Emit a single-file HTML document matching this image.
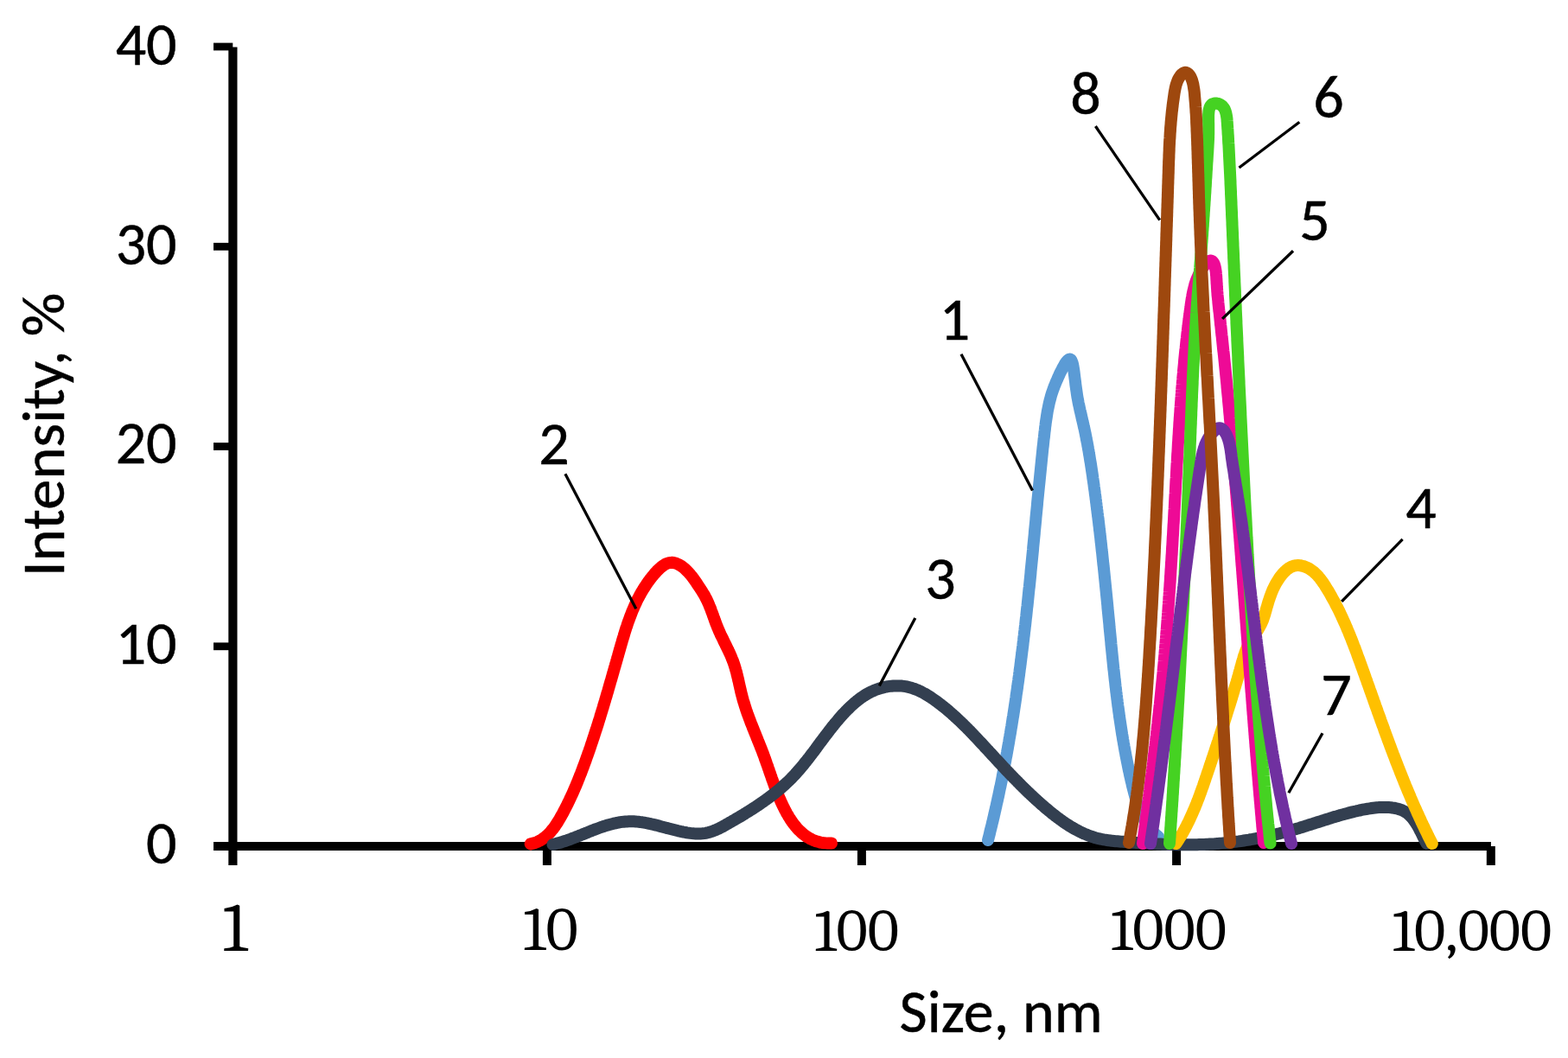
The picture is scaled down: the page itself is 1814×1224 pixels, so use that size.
<!DOCTYPE html><html><head><meta charset="utf-8"><title>Intensity vs Size</title>
<style>html,body{margin:0;padding:0;background:#fff;}svg{display:block;}.s{font-family:"Carlito","Liberation Sans",sans-serif;font-size-adjust:cap-height 0.6416;fill:#000;stroke:#000;stroke-width:0.5px;}.r{font-family:"Caladea","Liberation Serif",serif;font-size-adjust:cap-height 0.667;fill:#000;}</style></head><body>
<svg width="1814" height="1224" viewBox="0 0 1814 1224">
<rect width="1814" height="1224" fill="#fff"/>
<g fill="#000">
<rect x="264.3" y="54.5" width="10.2" height="946.5"/>
<rect x="247" y="974" width="1477.9" height="10"/>
<rect x="247" y="49.6" width="22.3" height="8.8"/>
<rect x="247" y="280.9" width="22.3" height="8.8"/>
<rect x="247" y="512.1" width="22.3" height="8.8"/>
<rect x="247" y="743.4" width="22.3" height="8.8"/>
<rect x="627.9" y="979" width="10" height="22"/>
<rect x="991.9" y="979" width="10" height="22"/>
<rect x="1356.1" y="979" width="10" height="22"/>
<rect x="1719.8" y="979" width="10" height="22"/>
</g>
<path d="M1143.0,972.0 L1143.5,970.1 L1144.0,968.1 L1144.5,966.2 L1145.0,964.2 L1145.4,962.3 L1145.9,960.3 L1146.4,958.4 L1146.9,956.4 L1147.4,954.5 L1147.8,952.5 L1148.3,950.6 L1148.8,948.6 L1149.2,946.7 L1149.7,944.7 L1150.1,942.8 L1150.6,940.8 L1151.0,938.8 L1151.5,936.9 L1151.9,934.9 L1152.4,933.0 L1152.8,931.0 L1153.2,929.1 L1153.7,927.1 L1154.1,925.2 L1154.5,923.2 L1155.0,921.2 L1155.4,919.3 L1155.8,917.3 L1156.2,915.4 L1156.6,913.4 L1157.0,911.4 L1157.5,909.5 L1157.9,907.5 L1158.3,905.5 L1158.7,903.6 L1159.1,901.6 L1159.5,899.6 L1159.8,897.7 L1160.2,895.7 L1160.6,893.7 L1161.0,891.8 L1161.4,889.8 L1161.8,887.8 L1162.1,885.9 L1162.5,883.9 L1162.9,881.9 L1163.3,880.0 L1163.6,878.0 L1164.0,876.0 L1164.4,874.1 L1164.7,872.1 L1165.1,870.1 L1165.4,868.1 L1165.8,866.2 L1166.1,864.2 L1166.5,862.2 L1166.8,860.3 L1167.2,858.3 L1167.5,856.3 L1167.8,854.3 L1168.2,852.4 L1168.5,850.4 L1168.9,848.4 L1169.2,846.4 L1169.5,844.4 L1169.8,842.5 L1170.2,840.5 L1170.5,838.5 L1170.8,836.5 L1171.1,834.6 L1171.4,832.6 L1171.7,830.6 L1172.1,828.6 L1172.4,826.6 L1172.7,824.7 L1173.0,822.7 L1173.3,820.7 L1173.6,818.7 L1173.9,816.7 L1174.2,814.7 L1174.5,812.8 L1174.8,810.8 L1175.1,808.8 L1175.4,806.8 L1175.6,804.8 L1175.9,802.8 L1176.2,800.9 L1176.5,798.9 L1176.8,796.9 L1177.1,794.9 L1177.3,792.9 L1177.6,790.9 L1177.9,788.9 L1178.2,787.0 L1178.4,785.0 L1178.7,783.0 L1179.0,781.0 L1179.2,779.0 L1179.5,777.0 L1179.7,775.0 L1180.0,773.0 L1180.3,771.1 L1180.5,769.1 L1180.8,767.1 L1181.0,765.1 L1181.3,763.1 L1181.5,761.1 L1181.8,759.1 L1182.0,757.1 L1182.3,755.1 L1182.5,753.1 L1182.8,751.1 L1183.0,749.2 L1183.3,747.2 L1183.5,745.2 L1183.7,743.2 L1184.0,741.2 L1184.2,739.2 L1184.4,737.2 L1184.7,735.2 L1184.9,733.2 L1185.1,731.2 L1185.4,729.2 L1185.6,727.2 L1185.8,725.2 L1186.1,723.2 L1186.3,721.2 L1186.5,719.3 L1186.7,717.3 L1186.9,715.3 L1187.2,713.3 L1187.4,711.3 L1187.6,709.3 L1187.8,707.3 L1188.0,705.3 L1188.2,703.3 L1188.5,701.3 L1188.7,699.3 L1188.9,697.3 L1189.1,695.3 L1189.3,693.3 L1189.5,691.3 L1189.7,689.3 L1189.9,687.3 L1190.1,685.3 L1190.3,683.3 L1190.5,681.3 L1190.8,679.3 L1191.0,677.3 L1191.2,675.3 L1191.4,673.3 L1191.6,671.3 L1191.8,669.3 L1192.0,667.3 L1192.2,665.3 L1192.4,663.3 L1192.5,661.3 L1192.7,659.3 L1192.9,657.3 L1193.1,655.4 L1193.3,653.4 L1193.5,651.4 L1193.7,649.4 L1193.9,647.4 L1194.1,645.4 L1194.3,643.4 L1194.5,641.4 L1194.7,639.4 L1194.9,637.4 L1195.1,635.4 L1195.2,633.4 L1195.4,631.4 L1195.6,629.4 L1195.8,627.4 L1196.0,625.4 L1196.2,623.4 L1196.4,621.4 L1196.6,619.4 L1196.8,617.4 L1196.9,615.4 L1197.1,613.4 L1197.3,611.4 L1197.5,609.4 L1197.7,607.4 L1197.9,605.4 L1198.1,603.4 L1198.3,601.4 L1198.4,599.4 L1198.6,597.4 L1198.8,595.4 L1199.0,593.4 L1199.2,591.4 L1199.4,589.4 L1199.6,587.4 L1199.8,585.4 L1200.0,583.4 L1200.1,581.4 L1200.3,579.4 L1200.5,577.4 L1200.7,575.4 L1200.9,573.4 L1201.1,571.4 L1201.3,569.4 L1201.5,567.4 L1201.7,565.4 L1201.9,563.4 L1202.1,561.5 L1202.3,559.5 L1202.5,557.5 L1202.7,555.5 L1202.9,553.5 L1203.1,551.5 L1203.3,549.5 L1203.5,547.5 L1203.7,545.5 L1203.9,543.5 L1204.1,541.5 L1204.3,539.5 L1204.5,537.5 L1204.7,535.5 L1204.9,533.5 L1205.1,531.5 L1205.3,529.6 L1205.5,527.6 L1205.7,525.6 L1205.9,523.6 L1206.1,521.6 L1206.3,519.6 L1206.5,517.6 L1206.8,515.6 L1207.0,513.6 L1207.2,511.6 L1207.4,509.6 L1207.6,507.7 L1207.9,505.7 L1208.1,503.7 L1208.3,501.7 L1208.5,499.7 L1208.8,497.7 L1209.0,495.7 L1209.2,493.8 L1209.5,491.8 L1209.7,489.8 L1210.0,487.8 L1210.3,485.8 L1210.6,483.9 L1210.9,481.9 L1211.2,479.9 L1211.5,478.0 L1211.8,476.0 L1212.2,474.0 L1212.6,472.1 L1213.0,470.1 L1213.4,468.2 L1213.8,466.3 L1214.3,464.3 L1214.8,462.4 L1215.3,460.5 L1215.8,458.6 L1216.4,456.6 L1217.0,454.7 L1217.6,452.8 L1218.3,450.9 L1219.0,449.0 L1219.7,447.0 L1220.5,445.1 L1221.3,443.1 L1222.2,441.0 L1223.1,439.0 L1224.0,436.8 L1225.0,434.7 L1226.0,432.4 L1227.1,430.2 L1228.3,427.9 L1229.4,425.7 L1230.6,423.5 L1231.7,421.5 L1232.9,419.7 L1234.0,418.2 L1235.1,417.0 L1236.1,416.1 L1237.0,415.6 L1237.9,415.5 L1238.7,415.9 L1239.4,416.8 L1240.0,418.1 L1240.6,419.7 L1241.1,421.5 L1241.5,423.6 L1241.9,425.9 L1242.3,428.3 L1242.6,430.7 L1242.9,433.1 L1243.2,435.5 L1243.5,437.8 L1243.8,440.1 L1244.1,442.3 L1244.3,444.5 L1244.6,446.7 L1244.9,448.9 L1245.2,451.0 L1245.5,453.1 L1245.8,455.2 L1246.1,457.2 L1246.4,459.2 L1246.8,461.3 L1247.2,463.3 L1247.5,465.2 L1247.9,467.2 L1248.4,469.2 L1248.8,471.1 L1249.2,473.1 L1249.6,475.0 L1250.1,476.9 L1250.5,478.8 L1251.0,480.8 L1251.4,482.7 L1251.8,484.6 L1252.3,486.5 L1252.7,488.4 L1253.2,490.3 L1253.6,492.2 L1254.0,494.1 L1254.5,496.0 L1254.9,498.0 L1255.3,499.9 L1255.7,501.8 L1256.1,503.8 L1256.5,505.7 L1256.8,507.7 L1257.2,509.6 L1257.6,511.5 L1258.0,513.5 L1258.3,515.5 L1258.7,517.4 L1259.0,519.4 L1259.4,521.3 L1259.7,523.3 L1260.0,525.3 L1260.4,527.2 L1260.7,529.2 L1261.0,531.2 L1261.3,533.2 L1261.7,535.2 L1262.0,537.1 L1262.3,539.1 L1262.6,541.1 L1262.9,543.1 L1263.2,545.1 L1263.5,547.1 L1263.8,549.1 L1264.1,551.0 L1264.3,553.0 L1264.6,555.0 L1264.9,557.0 L1265.2,559.0 L1265.5,561.0 L1265.7,563.0 L1266.0,565.0 L1266.3,567.0 L1266.6,569.0 L1266.8,571.0 L1267.1,573.0 L1267.4,575.0 L1267.6,577.0 L1267.9,579.0 L1268.1,581.0 L1268.4,583.0 L1268.6,585.0 L1268.9,587.0 L1269.1,589.0 L1269.4,591.0 L1269.6,593.0 L1269.9,595.0 L1270.1,597.0 L1270.4,599.0 L1270.6,600.9 L1270.9,602.9 L1271.1,604.9 L1271.3,606.9 L1271.6,608.9 L1271.8,610.9 L1272.0,612.9 L1272.3,614.9 L1272.5,616.9 L1272.7,618.9 L1273.0,620.9 L1273.2,622.9 L1273.4,624.9 L1273.6,626.9 L1273.9,628.9 L1274.1,630.9 L1274.3,632.9 L1274.5,634.9 L1274.7,636.9 L1275.0,638.9 L1275.2,640.9 L1275.4,642.9 L1275.6,644.9 L1275.8,646.9 L1276.0,648.9 L1276.2,650.9 L1276.4,652.9 L1276.7,654.9 L1276.9,656.9 L1277.1,658.9 L1277.3,660.9 L1277.5,662.9 L1277.7,664.9 L1277.9,666.9 L1278.1,668.9 L1278.3,670.9 L1278.5,672.9 L1278.7,674.9 L1278.9,676.9 L1279.1,678.9 L1279.3,680.9 L1279.5,682.9 L1279.7,684.9 L1279.9,686.9 L1280.1,688.9 L1280.3,690.9 L1280.5,692.9 L1280.7,694.9 L1280.9,696.9 L1281.1,698.9 L1281.3,700.9 L1281.4,702.8 L1281.6,704.8 L1281.8,706.8 L1282.0,708.8 L1282.2,710.8 L1282.4,712.8 L1282.6,714.8 L1282.8,716.8 L1283.0,718.8 L1283.2,720.8 L1283.4,722.8 L1283.5,724.8 L1283.7,726.8 L1283.9,728.8 L1284.1,730.7 L1284.3,732.7 L1284.5,734.7 L1284.7,736.7 L1284.9,738.7 L1285.1,740.7 L1285.3,742.7 L1285.4,744.7 L1285.6,746.7 L1285.8,748.7 L1286.0,750.6 L1286.2,752.6 L1286.4,754.6 L1286.6,756.6 L1286.8,758.6 L1287.0,760.6 L1287.2,762.6 L1287.4,764.6 L1287.6,766.5 L1287.8,768.5 L1288.0,770.5 L1288.2,772.5 L1288.4,774.5 L1288.7,776.5 L1288.9,778.5 L1289.1,780.4 L1289.3,782.4 L1289.5,784.4 L1289.7,786.4 L1290.0,788.4 L1290.2,790.4 L1290.4,792.4 L1290.6,794.3 L1290.9,796.3 L1291.1,798.3 L1291.3,800.3 L1291.6,802.3 L1291.8,804.3 L1292.1,806.2 L1292.3,808.2 L1292.6,810.2 L1292.8,812.2 L1293.1,814.2 L1293.3,816.2 L1293.6,818.2 L1293.9,820.1 L1294.1,822.1 L1294.4,824.1 L1294.7,826.1 L1294.9,828.1 L1295.2,830.1 L1295.5,832.0 L1295.8,834.0 L1296.1,836.0 L1296.4,838.0 L1296.7,840.0 L1297.0,842.0 L1297.3,843.9 L1297.6,845.9 L1297.9,847.9 L1298.2,849.9 L1298.6,851.9 L1298.9,853.9 L1299.2,855.8 L1299.6,857.8 L1299.9,859.8 L1300.3,861.8 L1300.6,863.8 L1301.0,865.8 L1301.3,867.8 L1301.7,869.7 L1302.1,871.7 L1302.4,873.7 L1302.8,875.7 L1303.2,877.7 L1303.6,879.7 L1304.0,881.7 L1304.4,883.6 L1304.8,885.6 L1305.2,887.6 L1305.6,889.6 L1306.0,891.6 L1306.5,893.6 L1306.9,895.6 L1307.3,897.5 L1307.8,899.5 L1308.2,901.5 L1308.7,903.5 L1309.2,905.5 L1309.6,907.5 L1310.1,909.5 L1310.6,911.5 L1311.1,913.4 L1311.6,915.4 L1312.1,917.4 L1312.7,919.3 L1313.2,921.3 L1313.8,923.3 L1314.4,925.2 L1315.0,927.1 L1315.6,929.0 L1316.2,930.9 L1316.9,932.8 L1317.6,934.7 L1318.3,936.5 L1319.1,938.4 L1319.8,940.2 L1320.6,942.0 L1321.5,943.7 L1322.3,945.5 L1323.2,947.2 L1324.1,948.9 L1325.1,950.6 L1326.1,952.2 L1327.2,953.8 L1328.2,955.4 L1329.4,956.9 L1330.5,958.4 L1331.7,959.9 L1333.0,961.4 L1334.3,962.8 L1335.6,964.2 L1337.0,965.5 L1338.5,966.8 L1340.0,968.0" fill="none" stroke="#5B9BD5" stroke-width="14" stroke-linecap="round" stroke-linejoin="round"/>
<path d="M613.7,976.4 L615.8,975.9 L617.8,975.4 L619.7,974.7 L621.6,974.0 L623.4,973.1 L625.1,972.2 L626.8,971.2 L628.4,970.1 L630.0,968.9 L631.5,967.7 L633.0,966.4 L634.4,965.1 L635.7,963.7 L637.1,962.2 L638.3,960.7 L639.6,959.2 L640.8,957.6 L642.0,956.0 L643.1,954.3 L644.2,952.6 L645.3,950.9 L646.3,949.2 L647.4,947.4 L648.4,945.6 L649.4,943.9 L650.4,942.1 L651.4,940.3 L652.3,938.5 L653.3,936.7 L654.2,934.9 L655.1,933.1 L656.0,931.3 L656.9,929.5 L657.8,927.7 L658.7,925.9 L659.5,924.0 L660.4,922.2 L661.2,920.4 L662.1,918.6 L662.9,916.7 L663.7,914.9 L664.5,913.0 L665.3,911.2 L666.1,909.4 L666.9,907.5 L667.6,905.7 L668.4,903.8 L669.1,901.9 L669.9,900.1 L670.6,898.2 L671.3,896.4 L672.1,894.5 L672.8,892.6 L673.5,890.8 L674.2,888.9 L674.9,887.0 L675.6,885.1 L676.3,883.3 L677.0,881.4 L677.7,879.5 L678.3,877.6 L679.0,875.7 L679.7,873.8 L680.3,872.0 L681.0,870.1 L681.7,868.2 L682.3,866.3 L683.0,864.4 L683.6,862.5 L684.2,860.6 L684.9,858.7 L685.5,856.8 L686.1,854.9 L686.8,853.0 L687.4,851.1 L688.0,849.2 L688.6,847.3 L689.2,845.4 L689.9,843.5 L690.5,841.6 L691.1,839.7 L691.7,837.8 L692.3,835.8 L692.9,833.9 L693.5,832.0 L694.1,830.1 L694.6,828.2 L695.2,826.3 L695.8,824.4 L696.4,822.4 L697.0,820.5 L697.6,818.6 L698.1,816.7 L698.7,814.8 L699.3,812.8 L699.9,810.9 L700.4,809.0 L701.0,807.1 L701.6,805.2 L702.1,803.2 L702.7,801.3 L703.3,799.4 L703.8,797.5 L704.4,795.5 L704.9,793.6 L705.5,791.7 L706.0,789.8 L706.6,787.8 L707.2,785.9 L707.7,784.0 L708.3,782.0 L708.8,780.1 L709.4,778.2 L709.9,776.3 L710.5,774.3 L711.0,772.4 L711.6,770.5 L712.1,768.5 L712.7,766.6 L713.2,764.7 L713.8,762.8 L714.3,760.8 L714.9,758.9 L715.4,757.0 L716.0,755.0 L716.5,753.1 L717.1,751.2 L717.6,749.3 L718.2,747.3 L718.7,745.4 L719.3,743.5 L719.8,741.5 L720.4,739.6 L721.0,737.7 L721.6,735.8 L722.1,733.9 L722.7,732.0 L723.3,730.0 L723.9,728.1 L724.5,726.2 L725.2,724.3 L725.8,722.4 L726.4,720.6 L727.1,718.7 L727.8,716.8 L728.5,714.9 L729.2,713.0 L729.9,711.2 L730.6,709.3 L731.3,707.5 L732.1,705.6 L732.9,703.8 L733.7,701.9 L734.5,700.1 L735.3,698.3 L736.2,696.5 L737.0,694.7 L737.9,692.9 L738.9,691.1 L739.8,689.3 L740.8,687.6 L741.7,685.8 L742.8,684.1 L743.8,682.3 L744.9,680.6 L746.0,678.9 L747.1,677.2 L748.2,675.5 L749.4,673.8 L750.6,672.1 L751.8,670.5 L753.1,668.8 L754.4,667.2 L755.7,665.6 L757.1,663.9 L758.5,662.4 L759.9,660.8 L761.4,659.3 L762.9,657.9 L764.4,656.5 L765.9,655.3 L767.5,654.1 L769.1,653.1 L770.7,652.3 L772.4,651.6 L774.0,651.1 L775.7,650.9 L777.4,650.8 L779.1,651.0 L780.8,651.3 L782.5,651.9 L784.2,652.6 L785.9,653.5 L787.6,654.5 L789.3,655.6 L790.9,656.9 L792.5,658.2 L794.0,659.7 L795.5,661.2 L797.0,662.8 L798.4,664.4 L799.8,666.1 L801.1,667.8 L802.5,669.6 L803.7,671.4 L805.0,673.2 L806.2,675.0 L807.4,676.8 L808.6,678.6 L809.7,680.3 L810.9,682.1 L812.0,683.8 L813.0,685.5 L814.1,687.2 L815.1,688.9 L816.0,690.7 L816.9,692.4 L817.8,694.1 L818.6,695.9 L819.4,697.7 L820.2,699.5 L820.9,701.3 L821.7,703.1 L822.4,704.9 L823.0,706.7 L823.7,708.5 L824.4,710.4 L825.0,712.2 L825.7,714.1 L826.4,715.9 L827.0,717.8 L827.7,719.6 L828.4,721.5 L829.1,723.3 L829.8,725.2 L830.6,727.0 L831.4,728.8 L832.2,730.7 L833.0,732.5 L833.8,734.3 L834.7,736.1 L835.6,737.9 L836.5,739.7 L837.3,741.6 L838.2,743.4 L839.1,745.2 L840.0,747.0 L840.9,748.8 L841.8,750.7 L842.7,752.5 L843.5,754.3 L844.4,756.2 L845.2,758.0 L846.0,759.8 L846.7,761.7 L847.5,763.6 L848.2,765.4 L848.9,767.3 L849.5,769.2 L850.1,771.1 L850.7,773.0 L851.2,775.0 L851.8,776.9 L852.3,778.8 L852.7,780.8 L853.2,782.7 L853.7,784.6 L854.1,786.6 L854.6,788.5 L855.0,790.5 L855.4,792.4 L855.9,794.4 L856.3,796.3 L856.8,798.3 L857.2,800.2 L857.7,802.2 L858.2,804.1 L858.7,806.1 L859.2,808.0 L859.7,809.9 L860.3,811.8 L860.9,813.7 L861.5,815.7 L862.1,817.6 L862.7,819.5 L863.3,821.4 L864.0,823.3 L864.6,825.2 L865.3,827.0 L866.0,828.9 L866.7,830.8 L867.4,832.7 L868.1,834.6 L868.8,836.5 L869.6,838.3 L870.3,840.2 L871.0,842.1 L871.8,843.9 L872.5,845.8 L873.3,847.7 L874.0,849.5 L874.8,851.4 L875.5,853.3 L876.3,855.1 L877.0,857.0 L877.8,858.9 L878.5,860.7 L879.3,862.6 L880.0,864.5 L880.7,866.3 L881.5,868.2 L882.2,870.1 L882.9,871.9 L883.6,873.8 L884.3,875.7 L884.9,877.6 L885.6,879.4 L886.3,881.3 L886.9,883.2 L887.6,885.1 L888.3,886.9 L888.9,888.8 L889.6,890.7 L890.2,892.6 L890.9,894.5 L891.5,896.3 L892.2,898.2 L892.8,900.1 L893.5,902.0 L894.2,903.9 L894.8,905.7 L895.5,907.6 L896.2,909.5 L896.9,911.4 L897.6,913.2 L898.4,915.1 L899.1,917.0 L899.8,918.8 L900.6,920.7 L901.4,922.6 L902.2,924.4 L903.0,926.3 L903.8,928.2 L904.7,930.0 L905.6,931.9 L906.4,933.7 L907.4,935.5 L908.3,937.4 L909.3,939.2 L910.2,941.0 L911.3,942.7 L912.3,944.5 L913.4,946.2 L914.4,947.9 L915.6,949.6 L916.7,951.2 L917.9,952.9 L919.1,954.4 L920.4,956.0 L921.6,957.5 L922.9,958.9 L924.3,960.4 L925.7,961.7 L927.1,963.0 L928.5,964.3 L930.0,965.5 L931.6,966.7 L933.1,967.8 L934.7,968.8 L936.4,969.8 L938.1,970.7 L939.8,971.5 L941.6,972.3 L943.4,973.0 L945.3,973.6 L947.2,974.1 L949.2,974.6 L951.2,975.0 L953.3,975.2 L955.4,975.4 L957.5,975.6 L959.7,975.6 L962.0,975.5" fill="none" stroke="#FF0000" stroke-width="14" stroke-linecap="round" stroke-linejoin="round"/>
<path d="M639.5,977.0 L641.4,976.6 L643.3,976.1 L645.1,975.6 L647.0,975.1 L648.9,974.5 L650.8,973.9 L652.7,973.3 L654.6,972.7 L656.5,972.0 L658.4,971.4 L660.3,970.7 L662.1,969.9 L664.0,969.2 L665.9,968.5 L667.8,967.7 L669.7,967.0 L671.6,966.2 L673.5,965.5 L675.4,964.7 L677.4,963.9 L679.3,963.2 L681.2,962.4 L683.1,961.6 L685.0,960.9 L686.9,960.1 L688.8,959.4 L690.7,958.7 L692.7,958.0 L694.6,957.3 L696.5,956.6 L698.4,956.0 L700.3,955.4 L702.3,954.8 L704.2,954.2 L706.1,953.7 L708.1,953.2 L710.0,952.7 L711.9,952.3 L713.9,951.9 L715.8,951.5 L717.7,951.2 L719.7,950.9 L721.6,950.7 L723.6,950.5 L725.5,950.4 L727.5,950.3 L729.4,950.2 L731.4,950.3 L733.3,950.3 L735.3,950.4 L737.2,950.6 L739.2,950.8 L741.1,951.1 L743.1,951.3 L745.1,951.6 L747.0,952.0 L749.0,952.4 L751.0,952.8 L752.9,953.2 L754.9,953.7 L756.9,954.1 L758.9,954.6 L760.8,955.1 L762.8,955.6 L764.8,956.2 L766.8,956.7 L768.8,957.2 L770.8,957.7 L772.7,958.3 L774.7,958.8 L776.7,959.3 L778.7,959.8 L780.7,960.3 L782.7,960.8 L784.7,961.3 L786.7,961.7 L788.7,962.2 L790.7,962.6 L792.7,962.9 L794.7,963.3 L796.7,963.6 L798.7,963.9 L800.7,964.1 L802.7,964.3 L804.7,964.4 L806.6,964.5 L808.6,964.5 L810.5,964.4 L812.5,964.3 L814.4,964.1 L816.3,963.8 L818.2,963.4 L820.0,963.0 L821.9,962.4 L823.7,961.8 L825.5,961.2 L827.3,960.4 L829.1,959.7 L830.9,958.9 L832.7,958.0 L834.5,957.1 L836.2,956.2 L838.0,955.2 L839.7,954.2 L841.5,953.2 L843.2,952.2 L845.0,951.2 L846.7,950.2 L848.5,949.2 L850.2,948.2 L852.0,947.2 L853.7,946.1 L855.5,945.1 L857.2,944.1 L859.0,943.0 L860.7,942.0 L862.4,940.9 L864.2,939.8 L865.9,938.8 L867.6,937.7 L869.3,936.6 L871.0,935.5 L872.7,934.4 L874.4,933.3 L876.1,932.2 L877.8,931.0 L879.5,929.9 L881.1,928.7 L882.8,927.6 L884.4,926.4 L886.1,925.2 L887.7,924.1 L889.3,922.9 L891.0,921.6 L892.6,920.4 L894.2,919.2 L895.7,918.0 L897.3,916.7 L898.9,915.4 L900.4,914.2 L902.0,912.9 L903.5,911.6 L905.0,910.3 L906.5,908.9 L908.0,907.6 L909.5,906.2 L910.9,904.9 L912.4,903.5 L913.8,902.1 L915.2,900.7 L916.6,899.3 L918.0,897.8 L919.3,896.4 L920.7,894.9 L922.0,893.4 L923.3,891.9 L924.7,890.4 L926.0,888.9 L927.2,887.4 L928.5,885.8 L929.8,884.3 L931.0,882.7 L932.3,881.2 L933.5,879.6 L934.8,878.0 L936.0,876.5 L937.2,874.9 L938.4,873.3 L939.6,871.7 L940.9,870.1 L942.1,868.5 L943.3,866.9 L944.5,865.3 L945.6,863.6 L946.8,862.0 L948.0,860.4 L949.2,858.8 L950.4,857.2 L951.6,855.6 L952.8,854.0 L954.0,852.4 L955.2,850.8 L956.5,849.2 L957.7,847.6 L958.9,846.0 L960.1,844.4 L961.4,842.8 L962.6,841.2 L963.9,839.7 L965.1,838.1 L966.4,836.5 L967.7,835.0 L969.0,833.5 L970.3,831.9 L971.6,830.4 L972.9,828.9 L974.2,827.4 L975.6,825.9 L977.0,824.5 L978.3,823.0 L979.7,821.6 L981.2,820.2 L982.6,818.8 L984.0,817.4 L985.5,816.0 L987.0,814.7 L988.5,813.3 L990.0,812.1 L991.6,810.8 L993.1,809.6 L994.7,808.4 L996.3,807.2 L998.0,806.1 L999.6,805.0 L1001.3,803.9 L1003.0,802.9 L1004.8,801.9 L1006.5,801.0 L1008.3,800.1 L1010.1,799.3 L1011.9,798.5 L1013.8,797.8 L1015.7,797.1 L1017.6,796.5 L1019.6,795.9 L1021.5,795.4 L1023.5,794.9 L1025.5,794.5 L1027.5,794.2 L1029.5,793.9 L1031.5,793.7 L1033.5,793.5 L1035.5,793.4 L1037.5,793.4 L1039.6,793.4 L1041.6,793.5 L1043.5,793.6 L1045.5,793.9 L1047.5,794.2 L1049.4,794.5 L1051.3,795.0 L1053.3,795.5 L1055.1,796.0 L1057.0,796.7 L1058.9,797.3 L1060.7,798.1 L1062.5,798.8 L1064.3,799.7 L1066.1,800.5 L1067.9,801.5 L1069.6,802.4 L1071.3,803.4 L1073.1,804.5 L1074.8,805.5 L1076.5,806.6 L1078.1,807.7 L1079.8,808.9 L1081.4,810.0 L1083.1,811.2 L1084.7,812.4 L1086.3,813.6 L1087.9,814.8 L1089.5,816.1 L1091.1,817.3 L1092.7,818.6 L1094.2,819.8 L1095.8,821.1 L1097.3,822.4 L1098.8,823.7 L1100.3,825.0 L1101.8,826.4 L1103.3,827.7 L1104.8,829.1 L1106.3,830.4 L1107.8,831.8 L1109.2,833.1 L1110.7,834.5 L1112.1,835.9 L1113.6,837.3 L1115.0,838.7 L1116.4,840.1 L1117.9,841.5 L1119.3,843.0 L1120.7,844.4 L1122.1,845.8 L1123.5,847.2 L1124.9,848.7 L1126.3,850.1 L1127.6,851.6 L1129.0,853.0 L1130.4,854.5 L1131.8,856.0 L1133.1,857.4 L1134.5,858.9 L1135.9,860.4 L1137.2,861.8 L1138.6,863.3 L1139.9,864.8 L1141.3,866.2 L1142.7,867.7 L1144.0,869.2 L1145.4,870.6 L1146.7,872.1 L1148.1,873.6 L1149.4,875.0 L1150.8,876.5 L1152.1,878.0 L1153.5,879.4 L1154.8,880.9 L1156.2,882.4 L1157.5,883.8 L1158.9,885.3 L1160.2,886.7 L1161.6,888.2 L1163.0,889.6 L1164.3,891.1 L1165.7,892.5 L1167.1,893.9 L1168.4,895.4 L1169.8,896.8 L1171.2,898.2 L1172.6,899.7 L1174.0,901.1 L1175.4,902.5 L1176.8,903.9 L1178.2,905.4 L1179.6,906.8 L1181.0,908.2 L1182.4,909.6 L1183.8,911.0 L1185.2,912.4 L1186.7,913.8 L1188.1,915.2 L1189.5,916.6 L1191.0,917.9 L1192.4,919.3 L1193.9,920.7 L1195.4,922.1 L1196.8,923.4 L1198.3,924.8 L1199.8,926.1 L1201.3,927.5 L1202.8,928.8 L1204.3,930.2 L1205.9,931.5 L1207.4,932.8 L1208.9,934.2 L1210.5,935.5 L1212.1,936.8 L1213.6,938.1 L1215.2,939.4 L1216.8,940.7 L1218.4,942.0 L1220.0,943.2 L1221.6,944.5 L1223.2,945.7 L1224.9,946.9 L1226.5,948.1 L1228.2,949.3 L1229.8,950.5 L1231.5,951.7 L1233.2,952.8 L1234.9,953.9 L1236.6,955.0 L1238.3,956.1 L1240.1,957.1 L1241.8,958.1 L1243.5,959.1 L1245.3,960.1 L1247.1,961.0 L1248.8,961.9 L1250.6,962.8 L1252.4,963.7 L1254.2,964.5 L1256.1,965.2 L1257.9,966.0 L1259.7,966.7 L1261.6,967.4 L1263.5,968.0 L1265.3,968.6 L1267.2,969.2 L1269.1,969.7 L1271.1,970.2 L1273.0,970.6 L1274.9,971.0 L1276.9,971.4 L1278.8,971.7 L1280.8,972.0 L1282.7,972.3 L1284.7,972.5 L1286.7,972.8 L1288.7,973.0 L1290.7,973.2 L1292.7,973.3 L1294.7,973.5 L1296.7,973.7 L1298.7,973.8 L1300.7,974.0 L1302.7,974.1 L1304.7,974.2 L1306.7,974.4 L1308.7,974.5 L1310.7,974.7 L1312.8,974.8 L1314.8,975.0 L1316.8,975.1 L1318.8,975.2 L1320.8,975.4 L1322.8,975.5 L1324.8,975.6 L1326.8,975.7 L1328.8,975.9 L1330.8,976.0 L1332.9,976.1 L1334.9,976.2 L1336.9,976.3 L1338.9,976.4 L1340.9,976.5 L1342.9,976.6 L1344.9,976.7 L1346.9,976.8 L1349.0,976.8 L1351.0,976.9 L1353.0,977.0 L1355.0,977.0 L1357.0,977.1 L1359.0,977.1 L1361.0,977.2 L1363.0,977.2 L1365.0,977.3 L1367.1,977.3 L1369.1,977.3 L1371.1,977.3 L1373.1,977.3 L1375.1,977.3 L1377.1,977.3 L1379.1,977.3 L1381.1,977.3 L1383.1,977.2 L1385.1,977.2 L1387.1,977.1 L1389.1,977.1 L1391.2,977.0 L1393.2,976.9 L1395.2,976.8 L1397.2,976.7 L1399.2,976.6 L1401.2,976.5 L1403.2,976.4 L1405.2,976.3 L1407.2,976.1 L1409.2,976.0 L1411.2,975.8 L1413.2,975.6 L1415.2,975.4 L1417.2,975.2 L1419.2,975.0 L1421.2,974.8 L1423.1,974.6 L1425.1,974.4 L1427.1,974.1 L1429.1,973.9 L1431.1,973.6 L1433.1,973.4 L1435.1,973.1 L1437.1,972.8 L1439.0,972.5 L1441.0,972.2 L1443.0,971.9 L1445.0,971.6 L1446.9,971.2 L1448.9,970.9 L1450.9,970.5 L1452.8,970.2 L1454.8,969.8 L1456.8,969.4 L1458.7,969.1 L1460.7,968.7 L1462.7,968.3 L1464.6,967.8 L1466.6,967.4 L1468.5,967.0 L1470.5,966.6 L1472.4,966.1 L1474.4,965.7 L1476.3,965.2 L1478.2,964.7 L1480.2,964.3 L1482.1,963.8 L1484.0,963.3 L1486.0,962.8 L1487.9,962.3 L1489.8,961.7 L1491.7,961.2 L1493.7,960.7 L1495.6,960.1 L1497.5,959.6 L1499.4,959.0 L1501.3,958.4 L1503.2,957.9 L1505.1,957.3 L1507.0,956.7 L1508.9,956.1 L1510.8,955.5 L1512.7,954.9 L1514.6,954.3 L1516.5,953.7 L1518.4,953.1 L1520.3,952.5 L1522.2,951.9 L1524.1,951.3 L1526.0,950.7 L1527.9,950.1 L1529.8,949.5 L1531.7,948.9 L1533.6,948.3 L1535.5,947.7 L1537.4,947.1 L1539.3,946.5 L1541.2,945.9 L1543.1,945.3 L1545.0,944.7 L1547.0,944.2 L1548.9,943.6 L1550.8,943.0 L1552.8,942.5 L1554.7,942.0 L1556.7,941.4 L1558.6,940.9 L1560.6,940.4 L1562.6,939.9 L1564.6,939.4 L1566.5,938.9 L1568.5,938.5 L1570.5,938.0 L1572.5,937.6 L1574.5,937.1 L1576.6,936.7 L1578.6,936.3 L1580.6,936.0 L1582.7,935.6 L1584.7,935.3 L1586.7,935.0 L1588.8,934.7 L1590.8,934.5 L1592.8,934.3 L1594.9,934.1 L1596.9,934.0 L1598.9,933.9 L1600.9,933.9 L1602.9,933.9 L1604.8,934.0 L1606.8,934.1 L1608.7,934.2 L1610.7,934.5 L1612.6,934.7 L1614.4,935.1 L1616.3,935.5 L1618.1,936.0 L1619.9,936.6 L1621.6,937.2 L1623.3,938.0 L1624.9,938.8 L1626.5,939.8 L1628.0,940.8 L1629.4,942.0 L1630.8,943.2 L1632.2,944.6 L1633.4,946.0 L1634.7,947.5 L1635.8,949.1 L1637.0,950.7 L1638.1,952.4 L1639.2,954.1 L1640.2,955.9 L1641.2,957.7 L1642.2,959.5 L1643.1,961.4 L1644.1,963.2 L1645.0,965.1 L1645.9,967.0 L1646.8,968.8 L1647.7,970.7 L1648.7,972.5 L1649.6,974.3 L1650.5,976.0" fill="none" stroke="#333F50" stroke-width="14" stroke-linecap="round" stroke-linejoin="round"/>
<path d="M1360.5,976.0 L1361.6,974.4 L1362.7,972.7 L1363.8,971.0 L1364.8,969.3 L1365.9,967.6 L1366.9,965.9 L1367.9,964.2 L1368.9,962.5 L1369.8,960.7 L1370.8,959.0 L1371.7,957.2 L1372.6,955.5 L1373.5,953.7 L1374.4,951.9 L1375.3,950.1 L1376.1,948.3 L1377.0,946.5 L1377.8,944.7 L1378.6,942.9 L1379.4,941.1 L1380.2,939.2 L1381.0,937.4 L1381.8,935.6 L1382.6,933.7 L1383.3,931.9 L1384.1,930.0 L1384.8,928.1 L1385.5,926.3 L1386.3,924.4 L1387.0,922.5 L1387.7,920.6 L1388.4,918.7 L1389.1,916.9 L1389.7,915.0 L1390.4,913.1 L1391.1,911.2 L1391.8,909.3 L1392.4,907.4 L1393.1,905.5 L1393.7,903.6 L1394.4,901.6 L1395.0,899.7 L1395.7,897.8 L1396.3,895.9 L1397.0,894.0 L1397.6,892.1 L1398.3,890.2 L1398.9,888.3 L1399.5,886.4 L1400.2,884.5 L1400.8,882.5 L1401.5,880.6 L1402.1,878.7 L1402.7,876.8 L1403.4,874.9 L1404.0,873.0 L1404.6,871.1 L1405.3,869.2 L1405.9,867.3 L1406.5,865.4 L1407.2,863.5 L1407.8,861.6 L1408.4,859.7 L1409.1,857.8 L1409.7,855.9 L1410.3,853.9 L1410.9,852.0 L1411.6,850.1 L1412.2,848.2 L1412.8,846.3 L1413.4,844.4 L1414.0,842.5 L1414.7,840.6 L1415.3,838.7 L1415.9,836.8 L1416.5,834.9 L1417.1,833.0 L1417.7,831.1 L1418.3,829.2 L1418.9,827.3 L1419.5,825.3 L1420.1,823.4 L1420.7,821.5 L1421.3,819.6 L1421.9,817.7 L1422.5,815.8 L1423.1,813.9 L1423.7,812.0 L1424.3,810.1 L1424.9,808.1 L1425.4,806.2 L1426.0,804.3 L1426.6,802.4 L1427.2,800.5 L1427.7,798.6 L1428.3,796.6 L1428.9,794.7 L1429.4,792.8 L1430.0,790.9 L1430.6,789.0 L1431.1,787.0 L1431.7,785.1 L1432.2,783.2 L1432.8,781.3 L1433.3,779.4 L1433.8,777.4 L1434.4,775.5 L1434.9,773.6 L1435.5,771.6 L1436.0,769.7 L1436.5,767.8 L1437.0,765.9 L1437.6,763.9 L1438.2,762.0 L1438.7,760.1 L1439.3,758.2 L1440.0,756.3 L1440.6,754.5 L1441.3,752.6 L1442.1,750.8 L1442.8,748.9 L1443.7,747.1 L1444.5,745.3 L1445.5,743.6 L1446.5,741.8 L1447.5,740.1 L1448.6,738.4 L1449.7,736.8 L1450.9,735.1 L1452.0,733.4 L1453.2,731.8 L1454.3,730.1 L1455.4,728.4 L1456.4,726.7 L1457.4,725.0 L1458.3,723.3 L1459.2,721.5 L1460.0,719.8 L1460.8,718.0 L1461.5,716.1 L1462.1,714.3 L1462.7,712.5 L1463.3,710.6 L1463.8,708.7 L1464.4,706.8 L1464.9,704.9 L1465.4,703.0 L1466.0,701.1 L1466.6,699.1 L1467.1,697.2 L1467.7,695.3 L1468.4,693.3 L1469.0,691.4 L1469.7,689.5 L1470.4,687.6 L1471.1,685.6 L1471.9,683.7 L1472.7,681.8 L1473.6,679.9 L1474.5,678.1 L1475.5,676.2 L1476.5,674.4 L1477.6,672.6 L1478.7,670.8 L1479.9,669.0 L1481.1,667.2 L1482.5,665.5 L1483.8,663.9 L1485.3,662.3 L1486.8,660.8 L1488.3,659.4 L1489.9,658.1 L1491.6,657.0 L1493.3,656.0 L1495.0,655.3 L1496.8,654.7 L1498.6,654.3 L1500.4,654.1 L1502.2,654.1 L1504.1,654.2 L1505.9,654.6 L1507.8,655.0 L1509.6,655.6 L1511.4,656.4 L1513.2,657.2 L1515.0,658.2 L1516.7,659.3 L1518.3,660.5 L1519.9,661.7 L1521.4,663.1 L1522.9,664.5 L1524.3,665.9 L1525.6,667.5 L1527.0,669.1 L1528.2,670.7 L1529.5,672.4 L1530.6,674.1 L1531.8,675.8 L1532.9,677.5 L1534.0,679.3 L1535.1,681.1 L1536.2,682.9 L1537.3,684.6 L1538.3,686.4 L1539.3,688.2 L1540.3,690.0 L1541.3,691.8 L1542.3,693.6 L1543.3,695.4 L1544.3,697.2 L1545.2,699.0 L1546.1,700.8 L1547.1,702.6 L1548.0,704.4 L1548.9,706.2 L1549.8,708.0 L1550.6,709.9 L1551.5,711.7 L1552.3,713.5 L1553.2,715.3 L1554.0,717.2 L1554.8,719.0 L1555.7,720.8 L1556.5,722.7 L1557.3,724.5 L1558.0,726.3 L1558.8,728.2 L1559.6,730.0 L1560.4,731.9 L1561.1,733.7 L1561.9,735.6 L1562.6,737.4 L1563.4,739.3 L1564.1,741.1 L1564.8,743.0 L1565.5,744.8 L1566.2,746.7 L1567.0,748.6 L1567.7,750.4 L1568.4,752.3 L1569.1,754.2 L1569.8,756.0 L1570.4,757.9 L1571.1,759.8 L1571.8,761.6 L1572.5,763.5 L1573.2,765.4 L1573.9,767.3 L1574.5,769.1 L1575.2,771.0 L1575.9,772.9 L1576.6,774.8 L1577.2,776.6 L1577.9,778.5 L1578.6,780.4 L1579.3,782.3 L1579.9,784.2 L1580.6,786.0 L1581.3,787.9 L1581.9,789.8 L1582.6,791.7 L1583.3,793.6 L1584.0,795.5 L1584.6,797.4 L1585.3,799.3 L1586.0,801.1 L1586.6,803.0 L1587.3,804.9 L1588.0,806.8 L1588.7,808.7 L1589.3,810.6 L1590.0,812.5 L1590.7,814.4 L1591.3,816.3 L1592.0,818.2 L1592.7,820.0 L1593.4,821.9 L1594.0,823.8 L1594.7,825.7 L1595.4,827.6 L1596.1,829.5 L1596.8,831.4 L1597.4,833.3 L1598.1,835.2 L1598.8,837.1 L1599.5,839.0 L1600.2,840.8 L1600.9,842.7 L1601.5,844.6 L1602.2,846.5 L1602.9,848.4 L1603.6,850.3 L1604.3,852.2 L1605.0,854.1 L1605.7,856.0 L1606.4,857.9 L1607.1,859.7 L1607.8,861.6 L1608.5,863.5 L1609.2,865.4 L1609.9,867.3 L1610.6,869.2 L1611.3,871.0 L1612.0,872.9 L1612.8,874.8 L1613.5,876.7 L1614.2,878.6 L1614.9,880.4 L1615.6,882.3 L1616.4,884.2 L1617.1,886.1 L1617.8,887.9 L1618.6,889.8 L1619.3,891.7 L1620.0,893.6 L1620.8,895.4 L1621.5,897.3 L1622.3,899.2 L1623.0,901.0 L1623.8,902.9 L1624.5,904.8 L1625.3,906.6 L1626.0,908.5 L1626.8,910.3 L1627.6,912.2 L1628.3,914.1 L1629.1,915.9 L1629.9,917.8 L1630.7,919.6 L1631.5,921.5 L1632.2,923.3 L1633.0,925.1 L1633.8,927.0 L1634.6,928.8 L1635.4,930.7 L1636.2,932.5 L1637.0,934.4 L1637.9,936.2 L1638.7,938.0 L1639.5,939.8 L1640.3,941.7 L1641.2,943.5 L1642.0,945.3 L1642.8,947.1 L1643.7,949.0 L1644.5,950.8 L1645.4,952.6 L1646.2,954.4 L1647.1,956.2 L1647.9,958.0 L1648.8,959.8 L1649.7,961.6 L1650.6,963.4 L1651.4,965.2 L1652.3,967.0 L1653.2,968.8 L1654.1,970.6 L1655.0,972.4 L1655.9,974.2 L1656.8,976.0" fill="none" stroke="#FFC000" stroke-width="14" stroke-linecap="round" stroke-linejoin="round"/>
<path d="M1322.0,976.0 L1322.2,974.0 L1322.5,972.0 L1322.8,970.0 L1323.0,968.0 L1323.3,966.0 L1323.5,964.1 L1323.8,962.1 L1324.1,960.1 L1324.3,958.1 L1324.6,956.1 L1324.8,954.1 L1325.1,952.1 L1325.4,950.1 L1325.6,948.1 L1325.9,946.1 L1326.1,944.2 L1326.4,942.2 L1326.7,940.2 L1326.9,938.2 L1327.2,936.2 L1327.4,934.2 L1327.7,932.2 L1327.9,930.2 L1328.2,928.3 L1328.5,926.3 L1328.7,924.3 L1329.0,922.3 L1329.2,920.3 L1329.5,918.3 L1329.7,916.3 L1330.0,914.3 L1330.2,912.4 L1330.5,910.4 L1330.7,908.4 L1331.0,906.4 L1331.2,904.4 L1331.5,902.4 L1331.7,900.4 L1332.0,898.4 L1332.2,896.5 L1332.5,894.5 L1332.7,892.5 L1333.0,890.5 L1333.2,888.5 L1333.5,886.5 L1333.7,884.5 L1334.0,882.5 L1334.2,880.6 L1334.4,878.6 L1334.7,876.6 L1334.9,874.6 L1335.2,872.6 L1335.4,870.6 L1335.6,868.6 L1335.9,866.7 L1336.1,864.7 L1336.4,862.7 L1336.6,860.7 L1336.8,858.7 L1337.1,856.7 L1337.3,854.7 L1337.5,852.7 L1337.8,850.8 L1338.0,848.8 L1338.2,846.8 L1338.5,844.8 L1338.7,842.8 L1338.9,840.8 L1339.1,838.8 L1339.4,836.8 L1339.6,834.8 L1339.8,832.9 L1340.0,830.9 L1340.2,828.9 L1340.5,826.9 L1340.7,824.9 L1340.9,822.9 L1341.1,820.9 L1341.3,818.9 L1341.5,816.9 L1341.8,815.0 L1342.0,813.0 L1342.2,811.0 L1342.4,809.0 L1342.6,807.0 L1342.8,805.0 L1343.0,803.0 L1343.2,801.0 L1343.4,799.0 L1343.6,797.0 L1343.8,795.0 L1344.0,793.0 L1344.2,791.0 L1344.4,789.1 L1344.6,787.1 L1344.8,785.1 L1345.0,783.1 L1345.2,781.1 L1345.4,779.1 L1345.6,777.1 L1345.7,775.1 L1345.9,773.1 L1346.1,771.1 L1346.3,769.1 L1346.5,767.1 L1346.7,765.1 L1346.8,763.1 L1347.0,761.1 L1347.2,759.1 L1347.4,757.1 L1347.5,755.1 L1347.7,753.1 L1347.9,751.1 L1348.0,749.1 L1348.2,747.1 L1348.4,745.1 L1348.5,743.1 L1348.7,741.1 L1348.9,739.1 L1349.0,737.1 L1349.2,735.1 L1349.3,733.1 L1349.5,731.1 L1349.7,729.1 L1349.8,727.1 L1350.0,725.1 L1350.1,723.1 L1350.3,721.1 L1350.4,719.1 L1350.6,717.1 L1350.7,715.1 L1350.9,713.1 L1351.0,711.1 L1351.2,709.1 L1351.3,707.1 L1351.5,705.1 L1351.6,703.1 L1351.7,701.1 L1351.9,699.1 L1352.0,697.1 L1352.2,695.1 L1352.3,693.1 L1352.4,691.1 L1352.6,689.1 L1352.7,687.1 L1352.9,685.1 L1353.0,683.1 L1353.1,681.1 L1353.3,679.1 L1353.4,677.1 L1353.5,675.1 L1353.7,673.0 L1353.8,671.0 L1353.9,669.0 L1354.0,667.0 L1354.2,665.0 L1354.3,663.0 L1354.4,661.0 L1354.5,659.0 L1354.7,657.0 L1354.8,655.0 L1354.9,653.0 L1355.0,651.0 L1355.2,649.0 L1355.3,647.0 L1355.4,645.0 L1355.5,643.0 L1355.7,641.0 L1355.8,639.0 L1355.9,637.0 L1356.0,635.0 L1356.1,633.0 L1356.3,631.0 L1356.4,629.0 L1356.5,627.0 L1356.6,625.0 L1356.7,622.9 L1356.8,620.9 L1357.0,618.9 L1357.1,616.9 L1357.2,614.9 L1357.3,612.9 L1357.4,610.9 L1357.5,608.9 L1357.6,606.9 L1357.8,604.9 L1357.9,602.9 L1358.0,600.9 L1358.1,598.9 L1358.2,596.9 L1358.3,594.9 L1358.4,592.9 L1358.5,590.9 L1358.7,588.9 L1358.8,586.9 L1358.9,584.9 L1359.0,582.9 L1359.1,580.9 L1359.2,578.9 L1359.3,576.9 L1359.4,574.9 L1359.5,572.9 L1359.7,570.9 L1359.8,568.9 L1359.9,566.9 L1360.0,564.9 L1360.1,562.9 L1360.2,560.9 L1360.3,558.9 L1360.4,556.9 L1360.5,554.9 L1360.7,552.9 L1360.8,550.9 L1360.9,548.9 L1361.0,546.9 L1361.1,544.9 L1361.2,542.9 L1361.3,540.9 L1361.4,538.9 L1361.5,536.9 L1361.7,534.9 L1361.8,532.9 L1361.9,530.9 L1362.0,528.9 L1362.1,526.9 L1362.2,524.9 L1362.4,523.0 L1362.5,521.0 L1362.6,519.0 L1362.7,517.0 L1362.8,515.0 L1362.9,513.0 L1363.1,511.0 L1363.2,509.0 L1363.3,507.0 L1363.4,505.0 L1363.6,503.0 L1363.7,501.0 L1363.8,499.0 L1363.9,497.0 L1364.1,495.0 L1364.2,493.0 L1364.3,491.0 L1364.4,489.0 L1364.6,487.0 L1364.7,485.0 L1364.8,483.1 L1365.0,481.1 L1365.1,479.1 L1365.3,477.1 L1365.4,475.1 L1365.5,473.1 L1365.7,471.1 L1365.8,469.1 L1366.0,467.1 L1366.1,465.1 L1366.3,463.1 L1366.4,461.1 L1366.6,459.1 L1366.7,457.1 L1366.9,455.1 L1367.0,453.1 L1367.2,451.1 L1367.3,449.1 L1367.5,447.1 L1367.7,445.1 L1367.8,443.1 L1368.0,441.2 L1368.2,439.2 L1368.3,437.2 L1368.5,435.2 L1368.7,433.2 L1368.9,431.2 L1369.0,429.2 L1369.2,427.2 L1369.4,425.2 L1369.6,423.2 L1369.8,421.2 L1370.0,419.2 L1370.1,417.2 L1370.3,415.2 L1370.5,413.2 L1370.7,411.2 L1370.9,409.2 L1371.1,407.2 L1371.3,405.2 L1371.6,403.2 L1371.8,401.2 L1372.0,399.2 L1372.2,397.2 L1372.4,395.2 L1372.6,393.2 L1372.9,391.2 L1373.1,389.2 L1373.3,387.2 L1373.5,385.2 L1373.8,383.2 L1374.0,381.2 L1374.2,379.2 L1374.5,377.1 L1374.7,375.1 L1375.0,373.1 L1375.2,371.1 L1375.5,369.1 L1375.7,367.1 L1376.0,365.1 L1376.3,363.1 L1376.5,361.1 L1376.8,359.1 L1377.1,357.1 L1377.4,355.1 L1377.6,353.1 L1377.9,351.0 L1378.2,349.0 L1378.5,347.0 L1378.8,345.0 L1379.2,343.0 L1379.5,341.0 L1379.9,339.0 L1380.3,337.1 L1380.8,335.1 L1381.3,333.1 L1381.8,331.2 L1382.3,329.2 L1382.9,327.3 L1383.6,325.3 L1384.3,323.4 L1385.1,321.5 L1385.9,319.6 L1386.7,317.8 L1387.7,315.9 L1388.7,314.1 L1389.7,312.3 L1390.9,310.5 L1392.1,308.7 L1393.4,307.0 L1394.7,305.4 L1396.0,304.0 L1397.4,302.8 L1398.7,302.0 L1399.9,301.6 L1401.1,301.6 L1402.2,302.0 L1403.2,302.9 L1404.1,304.1 L1404.8,305.7 L1405.4,307.6 L1405.9,309.7 L1406.3,312.0 L1406.7,314.5 L1406.9,317.1 L1407.2,319.7 L1407.3,322.4 L1407.5,325.1 L1407.6,327.7 L1407.8,330.1 L1407.9,332.5 L1408.1,334.7 L1408.2,336.9 L1408.4,338.9 L1408.5,340.9 L1408.7,342.8 L1408.9,344.6 L1409.1,346.5 L1409.3,348.3 L1409.4,350.2 L1409.6,352.0 L1409.8,353.9 L1410.0,355.8 L1410.2,357.7 L1410.4,359.7 L1410.7,361.7 L1410.9,363.6 L1411.1,365.6 L1411.3,367.6 L1411.5,369.6 L1411.7,371.7 L1411.9,373.7 L1412.1,375.7 L1412.4,377.7 L1412.6,379.7 L1412.8,381.7 L1413.0,383.7 L1413.2,385.7 L1413.4,387.7 L1413.7,389.7 L1413.9,391.7 L1414.1,393.7 L1414.3,395.7 L1414.5,397.7 L1414.7,399.7 L1414.9,401.7 L1415.1,403.7 L1415.3,405.7 L1415.6,407.7 L1415.8,409.7 L1416.0,411.6 L1416.2,413.6 L1416.4,415.6 L1416.6,417.6 L1416.8,419.6 L1417.0,421.6 L1417.2,423.6 L1417.4,425.6 L1417.6,427.6 L1417.8,429.6 L1418.0,431.6 L1418.2,433.6 L1418.4,435.6 L1418.6,437.6 L1418.8,439.5 L1419.0,441.5 L1419.2,443.5 L1419.4,445.5 L1419.5,447.5 L1419.7,449.5 L1419.9,451.5 L1420.1,453.5 L1420.3,455.5 L1420.5,457.5 L1420.7,459.5 L1420.9,461.5 L1421.0,463.5 L1421.2,465.5 L1421.4,467.5 L1421.6,469.5 L1421.8,471.5 L1422.0,473.5 L1422.1,475.5 L1422.3,477.5 L1422.5,479.5 L1422.7,481.5 L1422.8,483.4 L1423.0,485.4 L1423.2,487.4 L1423.4,489.4 L1423.5,491.4 L1423.7,493.4 L1423.9,495.4 L1424.1,497.4 L1424.2,499.4 L1424.4,501.4 L1424.6,503.4 L1424.8,505.4 L1424.9,507.4 L1425.1,509.4 L1425.3,511.4 L1425.4,513.4 L1425.6,515.4 L1425.8,517.4 L1425.9,519.4 L1426.1,521.4 L1426.3,523.4 L1426.4,525.4 L1426.6,527.4 L1426.8,529.4 L1426.9,531.4 L1427.1,533.4 L1427.3,535.4 L1427.4,537.4 L1427.6,539.4 L1427.8,541.4 L1427.9,543.4 L1428.1,545.4 L1428.3,547.4 L1428.4,549.4 L1428.6,551.4 L1428.7,553.4 L1428.9,555.4 L1429.1,557.4 L1429.2,559.4 L1429.4,561.4 L1429.6,563.4 L1429.7,565.4 L1429.9,567.4 L1430.0,569.4 L1430.2,571.4 L1430.4,573.4 L1430.5,575.3 L1430.7,577.3 L1430.8,579.3 L1431.0,581.3 L1431.1,583.3 L1431.3,585.3 L1431.5,587.3 L1431.6,589.3 L1431.8,591.3 L1431.9,593.3 L1432.1,595.3 L1432.2,597.3 L1432.4,599.3 L1432.6,601.3 L1432.7,603.3 L1432.9,605.3 L1433.0,607.3 L1433.2,609.3 L1433.3,611.3 L1433.5,613.3 L1433.6,615.3 L1433.8,617.3 L1434.0,619.3 L1434.1,621.3 L1434.3,623.3 L1434.4,625.3 L1434.6,627.3 L1434.7,629.3 L1434.9,631.3 L1435.0,633.3 L1435.2,635.3 L1435.3,637.3 L1435.5,639.3 L1435.6,641.3 L1435.8,643.3 L1435.9,645.3 L1436.1,647.3 L1436.2,649.3 L1436.4,651.3 L1436.5,653.3 L1436.7,655.3 L1436.9,657.3 L1437.0,659.3 L1437.2,661.3 L1437.3,663.3 L1437.5,665.3 L1437.6,667.3 L1437.8,669.3 L1437.9,671.3 L1438.1,673.3 L1438.2,675.3 L1438.4,677.3 L1438.5,679.3 L1438.7,681.3 L1438.8,683.3 L1439.0,685.3 L1439.1,687.3 L1439.3,689.3 L1439.4,691.3 L1439.6,693.3 L1439.7,695.3 L1439.9,697.3 L1440.0,699.3 L1440.2,701.3 L1440.3,703.3 L1440.5,705.3 L1440.6,707.3 L1440.8,709.3 L1440.9,711.3 L1441.1,713.3 L1441.2,715.3 L1441.4,717.2 L1441.5,719.2 L1441.7,721.2 L1441.8,723.2 L1442.0,725.2 L1442.1,727.2 L1442.3,729.2 L1442.4,731.2 L1442.6,733.2 L1442.7,735.2 L1442.9,737.2 L1443.0,739.2 L1443.2,741.2 L1443.3,743.2 L1443.5,745.2 L1443.6,747.2 L1443.8,749.2 L1443.9,751.2 L1444.1,753.2 L1444.2,755.2 L1444.4,757.2 L1444.5,759.2 L1444.7,761.2 L1444.8,763.2 L1445.0,765.2 L1445.1,767.2 L1445.3,769.2 L1445.4,771.2 L1445.6,773.2 L1445.7,775.2 L1445.9,777.2 L1446.0,779.2 L1446.2,781.2 L1446.3,783.2 L1446.5,785.2 L1446.6,787.2 L1446.8,789.2 L1446.9,791.2 L1447.1,793.2 L1447.2,795.2 L1447.4,797.2 L1447.5,799.2 L1447.7,801.2 L1447.9,803.2 L1448.0,805.2 L1448.2,807.2 L1448.3,809.2 L1448.5,811.2 L1448.6,813.2 L1448.8,815.2 L1448.9,817.2 L1449.1,819.2 L1449.2,821.2 L1449.4,823.2 L1449.5,825.2 L1449.7,827.2 L1449.9,829.2 L1450.0,831.2 L1450.2,833.2 L1450.3,835.2 L1450.5,837.2 L1450.6,839.2 L1450.8,841.2 L1451.0,843.2 L1451.1,845.2 L1451.3,847.2 L1451.4,849.2 L1451.6,851.1 L1451.7,853.1 L1451.9,855.1 L1452.1,857.1 L1452.2,859.1 L1452.4,861.1 L1452.5,863.1 L1452.7,865.1 L1452.9,867.1 L1453.0,869.1 L1453.2,871.1 L1453.3,873.1 L1453.5,875.1 L1453.7,877.1 L1453.8,879.1 L1454.0,881.1 L1454.2,883.1 L1454.3,885.1 L1454.5,887.1 L1454.6,889.1 L1454.8,891.1 L1455.0,893.1 L1455.1,895.1 L1455.3,897.1 L1455.5,899.1 L1455.6,901.1 L1455.8,903.1 L1456.0,905.1 L1456.1,907.1 L1456.3,909.1 L1456.5,911.1 L1456.6,913.1 L1456.8,915.1 L1457.0,917.1 L1457.1,919.1 L1457.3,921.1 L1457.5,923.1 L1457.6,925.1 L1457.8,927.1 L1458.0,929.1 L1458.2,931.1 L1458.3,933.1 L1458.5,935.1 L1458.7,937.1 L1458.8,939.1 L1459.0,941.0 L1459.2,943.0 L1459.4,945.0 L1459.5,947.0 L1459.7,949.0 L1459.9,951.0 L1460.1,953.0 L1460.2,955.0 L1460.4,957.0 L1460.6,959.0 L1460.8,961.0 L1460.9,963.0 L1461.1,965.0 L1461.3,967.0 L1461.5,969.0 L1461.7,971.0 L1461.8,973.0 L1462.0,975.0" fill="none" stroke="#EE0A96" stroke-width="14" stroke-linecap="round" stroke-linejoin="round"/>
<path d="M1353.0,976.0 L1353.1,974.0 L1353.3,972.0 L1353.4,970.0 L1353.6,968.0 L1353.7,966.0 L1353.8,964.0 L1354.0,962.0 L1354.1,960.0 L1354.2,958.0 L1354.4,956.0 L1354.5,954.0 L1354.6,952.0 L1354.8,950.0 L1354.9,948.0 L1355.0,946.0 L1355.2,944.0 L1355.3,942.0 L1355.4,940.0 L1355.6,938.0 L1355.7,936.0 L1355.8,934.0 L1356.0,932.0 L1356.1,930.0 L1356.2,928.0 L1356.4,926.0 L1356.5,924.0 L1356.6,922.0 L1356.7,920.0 L1356.9,918.0 L1357.0,916.0 L1357.1,914.0 L1357.2,912.0 L1357.4,910.0 L1357.5,908.0 L1357.6,906.0 L1357.7,904.0 L1357.9,902.0 L1358.0,900.0 L1358.1,898.0 L1358.2,896.0 L1358.4,894.0 L1358.5,892.0 L1358.6,890.0 L1358.7,888.0 L1358.9,886.0 L1359.0,884.0 L1359.1,882.0 L1359.2,880.0 L1359.3,878.0 L1359.5,876.0 L1359.6,874.0 L1359.7,872.0 L1359.8,870.0 L1359.9,868.0 L1360.1,866.0 L1360.2,864.0 L1360.3,862.0 L1360.4,860.0 L1360.5,858.0 L1360.7,856.0 L1360.8,854.0 L1360.9,852.0 L1361.0,850.0 L1361.1,848.0 L1361.2,846.0 L1361.3,844.0 L1361.5,842.0 L1361.6,840.0 L1361.7,838.0 L1361.8,836.0 L1361.9,834.0 L1362.0,832.0 L1362.1,830.0 L1362.3,828.0 L1362.4,826.0 L1362.5,824.0 L1362.6,822.0 L1362.7,820.0 L1362.8,818.0 L1362.9,816.0 L1363.0,814.0 L1363.2,812.0 L1363.3,810.0 L1363.4,808.0 L1363.5,806.0 L1363.6,804.0 L1363.7,802.0 L1363.8,800.0 L1363.9,798.0 L1364.0,796.0 L1364.1,794.0 L1364.2,792.0 L1364.3,790.0 L1364.5,788.0 L1364.6,786.0 L1364.7,784.0 L1364.8,782.0 L1364.9,780.0 L1365.0,778.0 L1365.1,776.0 L1365.2,774.0 L1365.3,772.0 L1365.4,770.0 L1365.5,768.0 L1365.6,766.0 L1365.7,764.0 L1365.8,762.0 L1365.9,760.0 L1366.0,758.0 L1366.1,756.0 L1366.2,754.0 L1366.3,752.0 L1366.4,750.0 L1366.5,748.0 L1366.6,746.0 L1366.7,744.0 L1366.8,742.0 L1366.9,740.0 L1367.0,738.0 L1367.1,736.0 L1367.2,734.0 L1367.3,732.0 L1367.4,730.0 L1367.5,728.0 L1367.6,726.0 L1367.7,724.0 L1367.8,722.0 L1367.9,720.0 L1368.0,718.0 L1368.1,716.0 L1368.2,714.0 L1368.3,712.0 L1368.4,710.0 L1368.5,708.0 L1368.6,706.0 L1368.7,704.0 L1368.8,702.0 L1368.9,700.0 L1369.0,698.0 L1369.1,696.0 L1369.2,693.9 L1369.3,691.9 L1369.4,689.9 L1369.4,687.9 L1369.5,685.9 L1369.6,683.9 L1369.7,681.9 L1369.8,679.9 L1369.9,677.9 L1370.0,675.9 L1370.1,673.9 L1370.2,671.9 L1370.3,669.9 L1370.4,667.9 L1370.5,665.9 L1370.6,663.9 L1370.6,661.9 L1370.7,659.9 L1370.8,657.9 L1370.9,655.9 L1371.0,653.9 L1371.1,651.9 L1371.2,649.9 L1371.3,647.9 L1371.4,645.9 L1371.5,643.9 L1371.5,641.9 L1371.6,639.9 L1371.7,637.9 L1371.8,635.9 L1371.9,633.9 L1372.0,631.9 L1372.1,629.9 L1372.2,627.9 L1372.2,625.9 L1372.3,623.9 L1372.4,621.9 L1372.5,619.9 L1372.6,617.9 L1372.7,615.9 L1372.8,613.9 L1372.8,611.9 L1372.9,609.9 L1373.0,607.9 L1373.1,605.9 L1373.2,603.9 L1373.3,601.9 L1373.4,599.9 L1373.4,597.8 L1373.5,595.8 L1373.6,593.8 L1373.7,591.8 L1373.8,589.8 L1373.9,587.8 L1373.9,585.8 L1374.0,583.8 L1374.1,581.8 L1374.2,579.8 L1374.3,577.8 L1374.4,575.8 L1374.4,573.8 L1374.5,571.8 L1374.6,569.8 L1374.7,567.8 L1374.8,565.8 L1374.8,563.8 L1374.9,561.8 L1375.0,559.8 L1375.1,557.8 L1375.2,555.8 L1375.2,553.8 L1375.3,551.8 L1375.4,549.8 L1375.5,547.7 L1375.6,545.7 L1375.6,543.7 L1375.7,541.7 L1375.8,539.7 L1375.9,537.7 L1376.0,535.7 L1376.0,533.7 L1376.1,531.7 L1376.2,529.7 L1376.3,527.7 L1376.4,525.7 L1376.4,523.7 L1376.5,521.7 L1376.6,519.7 L1376.7,517.7 L1376.7,515.7 L1376.8,513.7 L1376.9,511.7 L1377.0,509.6 L1377.1,507.6 L1377.1,505.6 L1377.2,503.6 L1377.3,501.6 L1377.4,499.6 L1377.4,497.6 L1377.5,495.6 L1377.6,493.6 L1377.7,491.6 L1377.8,489.6 L1377.8,487.6 L1377.9,485.6 L1378.0,483.6 L1378.1,481.6 L1378.2,479.6 L1378.2,477.6 L1378.3,475.5 L1378.4,473.5 L1378.5,471.5 L1378.6,469.5 L1378.6,467.5 L1378.7,465.5 L1378.8,463.5 L1378.9,461.5 L1379.0,459.5 L1379.0,457.5 L1379.1,455.5 L1379.2,453.5 L1379.3,451.5 L1379.4,449.5 L1379.5,447.5 L1379.6,445.5 L1379.7,443.5 L1379.7,441.5 L1379.8,439.5 L1379.9,437.5 L1380.0,435.5 L1380.1,433.5 L1380.2,431.5 L1380.3,429.5 L1380.4,427.5 L1380.5,425.5 L1380.6,423.5 L1380.7,421.5 L1380.8,419.5 L1380.9,417.5 L1381.0,415.5 L1381.1,413.5 L1381.2,411.5 L1381.3,409.5 L1381.4,407.5 L1381.5,405.5 L1381.6,403.5 L1381.7,401.5 L1381.8,399.5 L1381.9,397.5 L1382.1,395.5 L1382.2,393.5 L1382.3,391.5 L1382.4,389.5 L1382.5,387.5 L1382.6,385.5 L1382.8,383.5 L1382.9,381.5 L1383.0,379.5 L1383.1,377.5 L1383.3,375.5 L1383.4,373.5 L1383.5,371.6 L1383.6,369.6 L1383.8,367.6 L1383.9,365.6 L1384.0,363.6 L1384.2,361.6 L1384.3,359.6 L1384.5,357.6 L1384.6,355.6 L1384.8,353.7 L1384.9,351.7 L1385.0,349.7 L1385.2,347.7 L1385.3,345.7 L1385.5,343.7 L1385.6,341.7 L1385.8,339.7 L1386.0,337.8 L1386.1,335.8 L1386.3,333.8 L1386.4,331.8 L1386.6,329.8 L1386.7,327.8 L1386.9,325.8 L1387.1,323.8 L1387.2,321.9 L1387.4,319.9 L1387.5,317.9 L1387.7,315.9 L1387.9,313.9 L1388.0,311.9 L1388.2,309.9 L1388.3,307.9 L1388.5,305.9 L1388.6,303.9 L1388.8,301.9 L1389.0,299.9 L1389.1,297.9 L1389.3,295.9 L1389.4,293.9 L1389.6,291.9 L1389.7,289.9 L1389.9,287.9 L1390.0,285.8 L1390.2,283.8 L1390.3,281.8 L1390.5,279.8 L1390.6,277.8 L1390.8,275.7 L1390.9,273.7 L1391.1,271.7 L1391.2,269.7 L1391.3,267.7 L1391.5,265.6 L1391.6,263.6 L1391.8,261.6 L1391.9,259.6 L1392.0,257.5 L1392.2,255.5 L1392.3,253.5 L1392.4,251.5 L1392.6,249.4 L1392.7,247.4 L1392.8,245.4 L1393.0,243.4 L1393.1,241.4 L1393.2,239.3 L1393.4,237.3 L1393.5,235.3 L1393.6,233.3 L1393.8,231.3 L1393.9,229.3 L1394.0,227.3 L1394.1,225.3 L1394.3,223.3 L1394.4,221.3 L1394.5,219.3 L1394.6,217.3 L1394.8,215.3 L1394.9,213.3 L1395.0,211.4 L1395.1,209.4 L1395.2,207.4 L1395.4,205.4 L1395.5,203.5 L1395.6,201.5 L1395.7,199.6 L1395.8,197.6 L1396.0,195.7 L1396.1,193.7 L1396.2,191.8 L1396.3,189.9 L1396.4,187.9 L1396.6,186.0 L1396.7,184.1 L1396.8,182.2 L1396.9,180.3 L1397.0,178.4 L1397.2,176.5 L1397.3,174.6 L1397.4,172.7 L1397.5,170.8 L1397.6,168.9 L1397.7,167.0 L1397.8,165.1 L1397.9,163.1 L1398.0,161.1 L1398.1,159.1 L1398.1,157.0 L1398.2,154.9 L1398.2,152.7 L1398.2,150.4 L1398.2,148.1 L1398.2,145.7 L1398.2,143.2 L1398.1,140.7 L1398.1,138.1 L1398.1,135.6 L1398.1,133.1 L1398.3,130.7 L1398.5,128.4 L1398.9,126.3 L1399.5,124.4 L1400.2,122.8 L1401.2,121.5 L1402.3,120.5 L1403.7,119.9 L1405.2,119.5 L1406.9,119.5 L1408.6,119.8 L1410.2,120.3 L1411.8,121.1 L1413.3,122.0 L1414.6,123.2 L1415.7,124.6 L1416.7,126.1 L1417.4,127.8 L1418.0,129.6 L1418.5,131.5 L1418.9,133.5 L1419.2,135.5 L1419.5,137.6 L1419.6,139.8 L1419.8,141.9 L1419.9,144.1 L1420.1,146.3 L1420.2,148.4 L1420.4,150.5 L1420.5,152.7 L1420.6,154.8 L1420.8,156.9 L1420.9,159.0 L1421.0,161.1 L1421.1,163.2 L1421.2,165.3 L1421.4,167.4 L1421.5,169.5 L1421.6,171.5 L1421.7,173.6 L1421.8,175.7 L1421.9,177.7 L1422.0,179.8 L1422.1,181.8 L1422.2,183.9 L1422.3,185.9 L1422.4,187.9 L1422.5,190.0 L1422.6,192.0 L1422.7,194.0 L1422.8,196.0 L1422.9,198.0 L1423.0,200.0 L1423.1,202.0 L1423.2,204.1 L1423.3,206.1 L1423.4,208.1 L1423.5,210.1 L1423.5,212.0 L1423.6,214.0 L1423.7,216.0 L1423.8,218.0 L1423.9,220.0 L1424.0,222.0 L1424.0,224.0 L1424.1,226.0 L1424.2,227.9 L1424.3,229.9 L1424.4,231.9 L1424.5,233.9 L1424.5,235.9 L1424.6,237.9 L1424.7,239.8 L1424.8,241.8 L1424.9,243.8 L1425.0,245.8 L1425.0,247.8 L1425.1,249.8 L1425.2,251.8 L1425.3,253.7 L1425.4,255.7 L1425.5,257.7 L1425.5,259.7 L1425.6,261.7 L1425.7,263.7 L1425.8,265.7 L1425.9,267.7 L1426.0,269.7 L1426.0,271.6 L1426.1,273.6 L1426.2,275.6 L1426.3,277.6 L1426.4,279.6 L1426.5,281.6 L1426.5,283.6 L1426.6,285.6 L1426.7,287.6 L1426.8,289.6 L1426.9,291.6 L1427.0,293.5 L1427.1,295.5 L1427.1,297.5 L1427.2,299.5 L1427.3,301.5 L1427.4,303.5 L1427.5,305.5 L1427.6,307.5 L1427.6,309.5 L1427.7,311.5 L1427.8,313.5 L1427.9,315.5 L1428.0,317.5 L1428.1,319.5 L1428.2,321.5 L1428.3,323.5 L1428.3,325.5 L1428.4,327.5 L1428.5,329.5 L1428.6,331.5 L1428.7,333.5 L1428.8,335.5 L1428.9,337.5 L1428.9,339.5 L1429.0,341.5 L1429.1,343.5 L1429.2,345.5 L1429.3,347.4 L1429.4,349.4 L1429.5,351.4 L1429.6,353.4 L1429.7,355.4 L1429.7,357.4 L1429.8,359.4 L1429.9,361.5 L1430.0,363.5 L1430.1,365.5 L1430.2,367.5 L1430.3,369.5 L1430.4,371.5 L1430.4,373.5 L1430.5,375.5 L1430.6,377.5 L1430.7,379.5 L1430.8,381.5 L1430.9,383.5 L1431.0,385.5 L1431.1,387.5 L1431.2,389.5 L1431.3,391.5 L1431.3,393.5 L1431.4,395.5 L1431.5,397.5 L1431.6,399.5 L1431.7,401.5 L1431.8,403.5 L1431.9,405.5 L1432.0,407.5 L1432.1,409.5 L1432.2,411.5 L1432.3,413.5 L1432.3,415.5 L1432.4,417.5 L1432.5,419.5 L1432.6,421.5 L1432.7,423.5 L1432.8,425.5 L1432.9,427.6 L1433.0,429.6 L1433.1,431.6 L1433.2,433.6 L1433.3,435.6 L1433.4,437.6 L1433.5,439.6 L1433.6,441.6 L1433.6,443.6 L1433.7,445.6 L1433.8,447.6 L1433.9,449.6 L1434.0,451.6 L1434.1,453.6 L1434.2,455.6 L1434.3,457.6 L1434.4,459.6 L1434.5,461.6 L1434.6,463.6 L1434.7,465.7 L1434.8,467.7 L1434.9,469.7 L1435.0,471.7 L1435.1,473.7 L1435.2,475.7 L1435.3,477.7 L1435.3,479.7 L1435.4,481.7 L1435.5,483.7 L1435.6,485.7 L1435.7,487.7 L1435.8,489.7 L1435.9,491.7 L1436.0,493.7 L1436.1,495.7 L1436.2,497.7 L1436.3,499.8 L1436.4,501.8 L1436.5,503.8 L1436.6,505.8 L1436.7,507.8 L1436.8,509.8 L1436.9,511.8 L1437.0,513.8 L1437.1,515.8 L1437.2,517.8 L1437.3,519.8 L1437.4,521.8 L1437.5,523.8 L1437.6,525.8 L1437.7,527.8 L1437.8,529.8 L1437.9,531.8 L1438.0,533.8 L1438.1,535.8 L1438.2,537.9 L1438.3,539.9 L1438.4,541.9 L1438.5,543.9 L1438.6,545.9 L1438.7,547.9 L1438.8,549.9 L1438.9,551.9 L1439.0,553.9 L1439.1,555.9 L1439.2,557.9 L1439.3,559.9 L1439.4,561.9 L1439.5,563.9 L1439.6,565.9 L1439.7,567.9 L1439.8,569.9 L1439.9,571.9 L1440.0,573.9 L1440.1,575.9 L1440.2,577.9 L1440.3,579.9 L1440.4,581.9 L1440.5,583.9 L1440.6,585.9 L1440.7,587.9 L1440.8,589.9 L1440.9,591.9 L1441.0,593.9 L1441.2,595.9 L1441.3,597.9 L1441.4,599.9 L1441.5,601.9 L1441.6,603.9 L1441.7,605.9 L1441.8,608.0 L1441.9,610.0 L1442.0,612.0 L1442.1,614.0 L1442.2,616.0 L1442.3,618.0 L1442.4,620.0 L1442.5,622.0 L1442.7,624.0 L1442.8,626.0 L1442.9,628.0 L1443.0,630.0 L1443.1,632.0 L1443.2,634.0 L1443.3,636.0 L1443.4,638.0 L1443.5,640.0 L1443.6,642.0 L1443.8,644.0 L1443.9,646.0 L1444.0,648.0 L1444.1,650.0 L1444.2,652.0 L1444.3,654.0 L1444.4,656.0 L1444.6,658.0 L1444.7,660.0 L1444.8,662.0 L1444.9,664.0 L1445.0,666.0 L1445.1,668.0 L1445.3,670.0 L1445.4,672.0 L1445.5,674.0 L1445.6,676.0 L1445.7,678.0 L1445.8,680.0 L1446.0,682.0 L1446.1,684.0 L1446.2,686.0 L1446.3,688.0 L1446.4,690.0 L1446.6,692.0 L1446.7,694.0 L1446.8,695.9 L1446.9,697.9 L1447.0,699.9 L1447.2,701.9 L1447.3,703.9 L1447.4,705.9 L1447.5,707.9 L1447.7,709.9 L1447.8,711.9 L1447.9,713.9 L1448.0,715.9 L1448.2,717.9 L1448.3,719.9 L1448.4,721.9 L1448.6,723.9 L1448.7,725.9 L1448.8,727.9 L1448.9,729.9 L1449.1,731.9 L1449.2,733.9 L1449.3,735.9 L1449.5,737.9 L1449.6,739.9 L1449.7,741.9 L1449.9,743.9 L1450.0,745.9 L1450.1,747.9 L1450.3,749.9 L1450.4,751.9 L1450.5,753.9 L1450.7,755.9 L1450.8,757.9 L1450.9,759.9 L1451.1,761.9 L1451.2,763.9 L1451.4,765.9 L1451.5,767.9 L1451.6,769.9 L1451.8,771.9 L1451.9,773.9 L1452.1,775.9 L1452.2,777.9 L1452.3,779.9 L1452.5,781.9 L1452.6,783.8 L1452.8,785.8 L1452.9,787.8 L1453.1,789.8 L1453.2,791.8 L1453.3,793.8 L1453.5,795.8 L1453.6,797.8 L1453.8,799.8 L1453.9,801.8 L1454.1,803.8 L1454.2,805.8 L1454.4,807.8 L1454.5,809.8 L1454.7,811.8 L1454.8,813.8 L1455.0,815.8 L1455.1,817.8 L1455.3,819.8 L1455.5,821.8 L1455.6,823.8 L1455.8,825.8 L1455.9,827.8 L1456.1,829.8 L1456.2,831.8 L1456.4,833.8 L1456.6,835.8 L1456.7,837.8 L1456.9,839.8 L1457.0,841.7 L1457.2,843.7 L1457.4,845.7 L1457.5,847.7 L1457.7,849.7 L1457.9,851.7 L1458.0,853.7 L1458.2,855.7 L1458.4,857.7 L1458.5,859.7 L1458.7,861.7 L1458.9,863.7 L1459.0,865.7 L1459.2,867.7 L1459.4,869.7 L1459.5,871.7 L1459.7,873.7 L1459.9,875.7 L1460.1,877.7 L1460.2,879.7 L1460.4,881.7 L1460.6,883.7 L1460.8,885.7 L1460.9,887.7 L1461.1,889.7 L1461.3,891.7 L1461.5,893.7 L1461.7,895.6 L1461.8,897.6 L1462.0,899.6 L1462.2,901.6 L1462.4,903.6 L1462.6,905.6 L1462.8,907.6 L1462.9,909.6 L1463.1,911.6 L1463.3,913.6 L1463.5,915.6 L1463.7,917.6 L1463.9,919.6 L1464.1,921.6 L1464.3,923.6 L1464.5,925.6 L1464.7,927.6 L1464.9,929.6 L1465.0,931.6 L1465.2,933.6 L1465.4,935.6 L1465.6,937.6 L1465.8,939.6 L1466.0,941.6 L1466.2,943.6 L1466.4,945.6 L1466.6,947.5 L1466.8,949.5 L1467.0,951.5 L1467.2,953.5 L1467.5,955.5 L1467.7,957.5 L1467.9,959.5 L1468.1,961.5 L1468.3,963.5 L1468.5,965.5 L1468.7,967.5 L1468.9,969.5 L1469.1,971.5 L1469.3,973.5 L1469.6,975.5" fill="none" stroke="#45D222" stroke-width="14" stroke-linecap="round" stroke-linejoin="round"/>
<path d="M1331.0,976.0 L1331.3,974.0 L1331.6,972.0 L1331.9,970.1 L1332.2,968.1 L1332.4,966.1 L1332.7,964.1 L1333.0,962.2 L1333.3,960.2 L1333.6,958.2 L1333.9,956.2 L1334.2,954.2 L1334.5,952.3 L1334.8,950.3 L1335.0,948.3 L1335.3,946.3 L1335.6,944.3 L1335.9,942.4 L1336.2,940.4 L1336.5,938.4 L1336.7,936.4 L1337.0,934.4 L1337.3,932.4 L1337.6,930.5 L1337.8,928.5 L1338.1,926.5 L1338.4,924.5 L1338.7,922.5 L1338.9,920.5 L1339.2,918.6 L1339.5,916.6 L1339.8,914.6 L1340.0,912.6 L1340.3,910.6 L1340.6,908.6 L1340.8,906.7 L1341.1,904.7 L1341.4,902.7 L1341.6,900.7 L1341.9,898.7 L1342.2,896.7 L1342.4,894.7 L1342.7,892.7 L1343.0,890.8 L1343.2,888.8 L1343.5,886.8 L1343.7,884.8 L1344.0,882.8 L1344.3,880.8 L1344.5,878.8 L1344.8,876.8 L1345.0,874.9 L1345.3,872.9 L1345.5,870.9 L1345.8,868.9 L1346.1,866.9 L1346.3,864.9 L1346.6,862.9 L1346.8,860.9 L1347.1,858.9 L1347.3,856.9 L1347.6,855.0 L1347.8,853.0 L1348.1,851.0 L1348.3,849.0 L1348.6,847.0 L1348.8,845.0 L1349.1,843.0 L1349.3,841.0 L1349.6,839.0 L1349.8,837.0 L1350.1,835.0 L1350.3,833.1 L1350.6,831.1 L1350.8,829.1 L1351.1,827.1 L1351.3,825.1 L1351.6,823.1 L1351.8,821.1 L1352.1,819.1 L1352.3,817.1 L1352.6,815.1 L1352.8,813.1 L1353.1,811.1 L1353.3,809.2 L1353.5,807.2 L1353.8,805.2 L1354.0,803.2 L1354.3,801.2 L1354.5,799.2 L1354.8,797.2 L1355.0,795.2 L1355.2,793.2 L1355.5,791.2 L1355.7,789.2 L1356.0,787.2 L1356.2,785.3 L1356.5,783.3 L1356.7,781.3 L1356.9,779.3 L1357.2,777.3 L1357.4,775.3 L1357.7,773.3 L1357.9,771.3 L1358.2,769.3 L1358.4,767.3 L1358.6,765.3 L1358.9,763.3 L1359.1,761.3 L1359.4,759.4 L1359.6,757.4 L1359.8,755.4 L1360.1,753.4 L1360.3,751.4 L1360.6,749.4 L1360.8,747.4 L1361.1,745.4 L1361.3,743.4 L1361.5,741.4 L1361.8,739.4 L1362.0,737.5 L1362.3,735.5 L1362.5,733.5 L1362.8,731.5 L1363.0,729.5 L1363.2,727.5 L1363.5,725.5 L1363.7,723.5 L1364.0,721.5 L1364.2,719.6 L1364.5,717.6 L1364.7,715.6 L1364.9,713.6 L1365.2,711.6 L1365.4,709.6 L1365.7,707.6 L1365.9,705.6 L1366.2,703.6 L1366.4,701.7 L1366.7,699.7 L1366.9,697.7 L1367.2,695.7 L1367.4,693.7 L1367.6,691.7 L1367.9,689.7 L1368.1,687.7 L1368.4,685.8 L1368.6,683.8 L1368.9,681.8 L1369.1,679.8 L1369.4,677.8 L1369.6,675.8 L1369.9,673.8 L1370.1,671.9 L1370.4,669.9 L1370.6,667.9 L1370.9,665.9 L1371.1,663.9 L1371.4,661.9 L1371.6,660.0 L1371.9,658.0 L1372.2,656.0 L1372.4,654.0 L1372.7,652.0 L1372.9,650.1 L1373.2,648.1 L1373.4,646.1 L1373.7,644.1 L1373.9,642.1 L1374.2,640.2 L1374.5,638.2 L1374.7,636.2 L1375.0,634.2 L1375.2,632.2 L1375.5,630.3 L1375.8,628.3 L1376.0,626.3 L1376.3,624.3 L1376.6,622.3 L1376.8,620.4 L1377.1,618.4 L1377.4,616.4 L1377.6,614.4 L1377.9,612.5 L1378.2,610.5 L1378.4,608.5 L1378.7,606.5 L1379.0,604.5 L1379.2,602.6 L1379.5,600.6 L1379.8,598.6 L1380.1,596.6 L1380.3,594.6 L1380.6,592.6 L1380.9,590.7 L1381.2,588.7 L1381.5,586.7 L1381.8,584.7 L1382.0,582.7 L1382.3,580.7 L1382.6,578.7 L1382.9,576.7 L1383.2,574.7 L1383.5,572.7 L1383.8,570.8 L1384.1,568.8 L1384.4,566.8 L1384.7,564.8 L1385.0,562.8 L1385.3,560.8 L1385.6,558.7 L1385.9,556.7 L1386.2,554.7 L1386.5,552.7 L1386.8,550.7 L1387.1,548.7 L1387.4,546.7 L1387.7,544.7 L1388.0,542.6 L1388.4,540.6 L1388.7,538.6 L1389.0,536.6 L1389.3,534.5 L1389.7,532.5 L1390.0,530.5 L1390.4,528.5 L1390.8,526.5 L1391.3,524.5 L1391.7,522.5 L1392.3,520.5 L1392.8,518.6 L1393.5,516.7 L1394.1,514.8 L1394.9,512.9 L1395.7,511.1 L1396.6,509.3 L1397.6,507.5 L1398.6,505.8 L1399.8,504.1 L1401.1,502.4 L1402.4,500.8 L1403.9,499.3 L1405.4,497.9 L1407.0,496.7 L1408.5,495.8 L1410.1,495.3 L1411.7,495.3 L1413.1,495.9 L1414.5,496.9 L1415.8,498.2 L1417.0,499.8 L1418.1,501.6 L1419.1,503.5 L1419.9,505.5 L1420.7,507.5 L1421.3,509.5 L1421.9,511.6 L1422.4,513.6 L1422.8,515.7 L1423.2,517.8 L1423.6,519.9 L1423.9,522.1 L1424.2,524.2 L1424.5,526.3 L1424.7,528.4 L1425.0,530.5 L1425.3,532.5 L1425.6,534.6 L1425.9,536.6 L1426.2,538.7 L1426.5,540.7 L1426.9,542.7 L1427.2,544.7 L1427.5,546.7 L1427.8,548.7 L1428.1,550.7 L1428.4,552.6 L1428.8,554.6 L1429.1,556.6 L1429.4,558.5 L1429.7,560.5 L1430.0,562.4 L1430.4,564.4 L1430.7,566.3 L1431.0,568.3 L1431.3,570.2 L1431.6,572.2 L1431.9,574.1 L1432.2,576.1 L1432.6,578.0 L1432.9,580.0 L1433.2,582.0 L1433.5,583.9 L1433.8,585.9 L1434.1,587.9 L1434.4,589.8 L1434.6,591.8 L1434.9,593.8 L1435.2,595.7 L1435.5,597.7 L1435.8,599.7 L1436.1,601.7 L1436.4,603.6 L1436.6,605.6 L1436.9,607.6 L1437.2,609.6 L1437.5,611.6 L1437.7,613.5 L1438.0,615.5 L1438.3,617.5 L1438.6,619.5 L1438.8,621.5 L1439.1,623.5 L1439.4,625.5 L1439.6,627.5 L1439.9,629.5 L1440.1,631.4 L1440.4,633.4 L1440.7,635.4 L1440.9,637.4 L1441.2,639.4 L1441.4,641.4 L1441.7,643.4 L1441.9,645.4 L1442.2,647.4 L1442.4,649.4 L1442.7,651.4 L1442.9,653.4 L1443.2,655.4 L1443.4,657.4 L1443.7,659.4 L1443.9,661.4 L1444.2,663.4 L1444.4,665.4 L1444.7,667.4 L1444.9,669.4 L1445.2,671.4 L1445.4,673.4 L1445.6,675.4 L1445.9,677.4 L1446.1,679.4 L1446.4,681.4 L1446.6,683.4 L1446.9,685.4 L1447.1,687.3 L1447.3,689.3 L1447.6,691.3 L1447.8,693.3 L1448.1,695.3 L1448.3,697.3 L1448.6,699.3 L1448.8,701.3 L1449.0,703.3 L1449.3,705.3 L1449.5,707.3 L1449.8,709.3 L1450.0,711.3 L1450.2,713.3 L1450.5,715.3 L1450.7,717.3 L1451.0,719.3 L1451.2,721.3 L1451.5,723.2 L1451.7,725.2 L1451.9,727.2 L1452.2,729.2 L1452.4,731.2 L1452.7,733.2 L1452.9,735.2 L1453.2,737.2 L1453.4,739.2 L1453.7,741.2 L1453.9,743.2 L1454.1,745.1 L1454.4,747.1 L1454.6,749.1 L1454.9,751.1 L1455.1,753.1 L1455.4,755.1 L1455.6,757.1 L1455.9,759.1 L1456.1,761.1 L1456.4,763.1 L1456.7,765.0 L1456.9,767.0 L1457.2,769.0 L1457.4,771.0 L1457.7,773.0 L1457.9,775.0 L1458.2,777.0 L1458.5,778.9 L1458.7,780.9 L1459.0,782.9 L1459.2,784.9 L1459.5,786.9 L1459.8,788.9 L1460.0,790.9 L1460.3,792.8 L1460.6,794.8 L1460.9,796.8 L1461.1,798.8 L1461.4,800.8 L1461.7,802.8 L1462.0,804.7 L1462.2,806.7 L1462.5,808.7 L1462.8,810.7 L1463.1,812.7 L1463.4,814.7 L1463.6,816.6 L1463.9,818.6 L1464.2,820.6 L1464.5,822.6 L1464.8,824.6 L1465.1,826.5 L1465.4,828.5 L1465.7,830.5 L1466.0,832.5 L1466.3,834.5 L1466.6,836.4 L1466.9,838.4 L1467.2,840.4 L1467.5,842.4 L1467.8,844.3 L1468.1,846.3 L1468.4,848.3 L1468.7,850.3 L1469.0,852.2 L1469.4,854.2 L1469.7,856.2 L1470.0,858.2 L1470.3,860.1 L1470.7,862.1 L1471.0,864.1 L1471.3,866.1 L1471.6,868.0 L1472.0,870.0 L1472.3,872.0 L1472.7,874.0 L1473.0,875.9 L1473.3,877.9 L1473.7,879.9 L1474.0,881.8 L1474.4,883.8 L1474.7,885.8 L1475.1,887.7 L1475.5,889.7 L1475.8,891.7 L1476.2,893.7 L1476.5,895.6 L1476.9,897.6 L1477.3,899.6 L1477.7,901.5 L1478.0,903.5 L1478.4,905.5 L1478.8,907.4 L1479.2,909.4 L1479.6,911.4 L1480.0,913.3 L1480.3,915.3 L1480.7,917.3 L1481.1,919.2 L1481.5,921.2 L1481.9,923.1 L1482.4,925.1 L1482.8,927.1 L1483.2,929.0 L1483.6,931.0 L1484.0,932.9 L1484.4,934.9 L1484.9,936.9 L1485.3,938.8 L1485.7,940.8 L1486.2,942.7 L1486.6,944.7 L1487.0,946.7 L1487.5,948.6 L1487.9,950.6 L1488.4,952.5 L1488.8,954.5 L1489.3,956.5 L1489.8,958.4 L1490.2,960.4 L1490.7,962.3 L1491.2,964.3 L1491.6,966.2 L1492.1,968.2 L1492.6,970.1 L1493.1,972.1 L1493.6,974.0 L1494.1,976.0" fill="none" stroke="#7030A0" stroke-width="14" stroke-linecap="round" stroke-linejoin="round"/>
<path d="M1306.0,975.0 L1306.4,973.0 L1306.8,971.1 L1307.1,969.1 L1307.5,967.1 L1307.8,965.2 L1308.2,963.2 L1308.6,961.2 L1308.9,959.2 L1309.2,957.3 L1309.6,955.3 L1309.9,953.3 L1310.3,951.3 L1310.6,949.4 L1310.9,947.4 L1311.2,945.4 L1311.5,943.4 L1311.9,941.5 L1312.2,939.5 L1312.5,937.5 L1312.8,935.5 L1313.1,933.6 L1313.4,931.6 L1313.7,929.6 L1313.9,927.6 L1314.2,925.6 L1314.5,923.6 L1314.8,921.7 L1315.1,919.7 L1315.3,917.7 L1315.6,915.7 L1315.9,913.7 L1316.1,911.7 L1316.4,909.8 L1316.6,907.8 L1316.9,905.8 L1317.2,903.8 L1317.4,901.8 L1317.6,899.8 L1317.9,897.8 L1318.1,895.8 L1318.4,893.8 L1318.6,891.9 L1318.8,889.9 L1319.0,887.9 L1319.3,885.9 L1319.5,883.9 L1319.7,881.9 L1319.9,879.9 L1320.1,877.9 L1320.3,875.9 L1320.6,873.9 L1320.8,871.9 L1321.0,869.9 L1321.2,867.9 L1321.4,866.0 L1321.6,864.0 L1321.8,862.0 L1321.9,860.0 L1322.1,858.0 L1322.3,856.0 L1322.5,854.0 L1322.7,852.0 L1322.9,850.0 L1323.1,848.0 L1323.2,846.0 L1323.4,844.0 L1323.6,842.0 L1323.7,840.0 L1323.9,838.0 L1324.1,836.0 L1324.2,834.0 L1324.4,832.0 L1324.6,830.0 L1324.7,828.0 L1324.9,826.0 L1325.0,824.0 L1325.2,822.0 L1325.4,820.0 L1325.5,818.0 L1325.7,816.0 L1325.8,814.0 L1326.0,812.0 L1326.1,810.0 L1326.2,808.0 L1326.4,806.0 L1326.5,804.0 L1326.7,802.0 L1326.8,800.0 L1326.9,798.0 L1327.1,796.0 L1327.2,794.0 L1327.3,792.0 L1327.5,790.0 L1327.6,788.0 L1327.7,786.0 L1327.9,784.0 L1328.0,782.0 L1328.1,780.0 L1328.3,778.0 L1328.4,776.0 L1328.5,774.0 L1328.6,772.0 L1328.8,770.0 L1328.9,768.0 L1329.0,766.0 L1329.1,764.0 L1329.3,762.0 L1329.4,760.0 L1329.5,758.0 L1329.6,756.0 L1329.7,754.0 L1329.8,752.0 L1330.0,750.0 L1330.1,748.0 L1330.2,746.0 L1330.3,744.0 L1330.4,742.0 L1330.6,740.0 L1330.7,738.0 L1330.8,736.0 L1330.9,734.0 L1331.0,732.0 L1331.1,730.0 L1331.2,728.0 L1331.3,726.0 L1331.5,724.0 L1331.6,722.0 L1331.7,720.0 L1331.8,718.0 L1331.9,716.0 L1332.0,714.0 L1332.1,712.0 L1332.2,710.0 L1332.3,708.0 L1332.4,706.0 L1332.6,704.0 L1332.7,702.0 L1332.8,700.0 L1332.9,698.0 L1333.0,696.0 L1333.1,694.0 L1333.2,692.0 L1333.3,690.0 L1333.4,688.0 L1333.5,686.0 L1333.6,684.0 L1333.7,682.0 L1333.8,680.0 L1333.9,678.0 L1334.0,676.0 L1334.1,674.0 L1334.2,672.0 L1334.3,670.0 L1334.4,668.0 L1334.5,666.0 L1334.6,664.0 L1334.7,662.0 L1334.8,660.0 L1334.9,658.0 L1335.0,656.0 L1335.1,654.0 L1335.2,652.0 L1335.3,650.0 L1335.4,648.0 L1335.5,646.0 L1335.6,644.0 L1335.7,642.0 L1335.8,640.0 L1335.9,638.0 L1335.9,636.0 L1336.0,634.0 L1336.1,632.0 L1336.2,630.0 L1336.3,628.0 L1336.4,626.0 L1336.5,624.0 L1336.6,622.0 L1336.7,620.0 L1336.8,618.0 L1336.9,616.0 L1336.9,614.0 L1337.0,612.0 L1337.1,610.0 L1337.2,608.0 L1337.3,606.0 L1337.4,604.0 L1337.5,602.0 L1337.6,600.0 L1337.7,598.0 L1337.7,596.0 L1337.8,594.0 L1337.9,592.0 L1338.0,590.0 L1338.1,588.0 L1338.2,586.0 L1338.3,584.0 L1338.3,582.0 L1338.4,580.0 L1338.5,578.0 L1338.6,576.0 L1338.7,574.0 L1338.8,572.0 L1338.8,570.0 L1338.9,568.0 L1339.0,566.0 L1339.1,564.0 L1339.2,562.0 L1339.3,560.0 L1339.3,558.0 L1339.4,556.0 L1339.5,554.0 L1339.6,552.0 L1339.7,550.0 L1339.7,548.0 L1339.8,546.0 L1339.9,544.0 L1340.0,542.0 L1340.1,540.0 L1340.1,538.0 L1340.2,536.0 L1340.3,534.0 L1340.4,532.0 L1340.4,530.0 L1340.5,528.0 L1340.6,526.0 L1340.7,524.0 L1340.8,522.0 L1340.8,520.0 L1340.9,518.0 L1341.0,516.0 L1341.1,514.0 L1341.1,511.9 L1341.2,509.9 L1341.3,507.9 L1341.4,505.9 L1341.4,503.9 L1341.5,501.9 L1341.6,499.9 L1341.7,497.9 L1341.7,495.9 L1341.8,493.9 L1341.9,491.9 L1342.0,489.9 L1342.0,487.9 L1342.1,485.9 L1342.2,483.9 L1342.3,481.9 L1342.3,479.9 L1342.4,477.9 L1342.5,475.9 L1342.6,473.9 L1342.6,471.8 L1342.7,469.8 L1342.8,467.8 L1342.9,465.8 L1342.9,463.8 L1343.0,461.8 L1343.1,459.8 L1343.1,457.8 L1343.2,455.8 L1343.3,453.8 L1343.4,451.8 L1343.4,449.8 L1343.5,447.8 L1343.6,445.7 L1343.6,443.7 L1343.7,441.7 L1343.8,439.7 L1343.9,437.7 L1343.9,435.7 L1344.0,433.7 L1344.1,431.7 L1344.1,429.7 L1344.2,427.7 L1344.3,425.7 L1344.4,423.6 L1344.4,421.6 L1344.5,419.6 L1344.6,417.6 L1344.6,415.6 L1344.7,413.6 L1344.8,411.6 L1344.8,409.6 L1344.9,407.6 L1345.0,405.6 L1345.1,403.5 L1345.1,401.5 L1345.2,399.5 L1345.3,397.5 L1345.3,395.5 L1345.4,393.5 L1345.5,391.5 L1345.5,389.5 L1345.6,387.5 L1345.7,385.5 L1345.7,383.4 L1345.8,381.4 L1345.9,379.4 L1345.9,377.4 L1346.0,375.4 L1346.1,373.4 L1346.1,371.4 L1346.2,369.4 L1346.3,367.4 L1346.3,365.4 L1346.4,363.4 L1346.5,361.3 L1346.6,359.3 L1346.6,357.3 L1346.7,355.3 L1346.8,353.3 L1346.8,351.3 L1346.9,349.3 L1347.0,347.3 L1347.0,345.3 L1347.1,343.3 L1347.2,341.3 L1347.2,339.3 L1347.3,337.3 L1347.4,335.2 L1347.4,333.2 L1347.5,331.2 L1347.6,329.2 L1347.6,327.2 L1347.7,325.2 L1347.7,323.2 L1347.8,321.2 L1347.9,319.2 L1347.9,317.2 L1348.0,315.2 L1348.1,313.2 L1348.1,311.2 L1348.2,309.2 L1348.3,307.2 L1348.3,305.2 L1348.4,303.2 L1348.5,301.2 L1348.5,299.2 L1348.6,297.2 L1348.7,295.2 L1348.7,293.2 L1348.8,291.2 L1348.9,289.2 L1348.9,287.2 L1349.0,285.2 L1349.1,283.2 L1349.1,281.2 L1349.2,279.2 L1349.3,277.2 L1349.3,275.2 L1349.4,273.2 L1349.4,271.2 L1349.5,269.2 L1349.6,267.2 L1349.6,265.2 L1349.7,263.2 L1349.8,261.2 L1349.8,259.2 L1349.9,257.2 L1350.0,255.2 L1350.0,253.2 L1350.1,251.2 L1350.2,249.2 L1350.2,247.2 L1350.3,245.3 L1350.3,243.3 L1350.4,241.3 L1350.5,239.3 L1350.5,237.3 L1350.6,235.3 L1350.7,233.3 L1350.7,231.3 L1350.8,229.3 L1350.9,227.4 L1350.9,225.4 L1351.0,223.4 L1351.1,221.4 L1351.1,219.4 L1351.2,217.4 L1351.2,215.4 L1351.3,213.5 L1351.4,211.5 L1351.4,209.5 L1351.5,207.5 L1351.6,205.5 L1351.6,203.6 L1351.7,201.6 L1351.8,199.6 L1351.8,197.6 L1351.9,195.6 L1351.9,193.7 L1352.0,191.7 L1352.1,189.7 L1352.1,187.7 L1352.2,185.7 L1352.3,183.8 L1352.4,181.8 L1352.4,179.8 L1352.5,177.8 L1352.6,175.8 L1352.7,173.8 L1352.7,171.9 L1352.8,169.9 L1352.9,167.9 L1353.0,165.9 L1353.1,163.9 L1353.2,161.9 L1353.4,159.9 L1353.5,157.8 L1353.6,155.8 L1353.7,153.8 L1353.9,151.8 L1354.0,149.8 L1354.1,147.7 L1354.3,145.7 L1354.5,143.6 L1354.6,141.6 L1354.8,139.5 L1355.0,137.5 L1355.2,135.4 L1355.4,133.3 L1355.6,131.2 L1355.8,129.1 L1356.1,127.0 L1356.3,124.9 L1356.6,122.8 L1356.8,120.7 L1357.1,118.6 L1357.4,116.4 L1357.7,114.3 L1358.0,112.1 L1358.3,110.0 L1358.6,107.8 L1359.0,105.6 L1359.4,103.5 L1359.8,101.4 L1360.3,99.3 L1360.9,97.3 L1361.6,95.3 L1362.3,93.4 L1363.1,91.6 L1364.1,89.9 L1365.2,88.2 L1366.3,86.7 L1367.6,85.5 L1368.9,84.5 L1370.2,84.0 L1371.6,83.8 L1372.9,84.2 L1374.2,84.9 L1375.4,86.0 L1376.5,87.4 L1377.5,89.0 L1378.3,90.8 L1379.1,92.8 L1379.7,95.0 L1380.3,97.3 L1380.7,99.6 L1381.1,102.1 L1381.5,104.5 L1381.8,107.0 L1382.0,109.5 L1382.2,112.0 L1382.4,114.4 L1382.6,116.7 L1382.8,118.9 L1383.0,121.1 L1383.1,123.3 L1383.3,125.4 L1383.4,127.5 L1383.5,129.5 L1383.7,131.5 L1383.8,133.5 L1383.9,135.4 L1384.0,137.4 L1384.1,139.3 L1384.1,141.2 L1384.2,143.1 L1384.3,145.0 L1384.4,146.9 L1384.5,148.8 L1384.5,150.7 L1384.6,152.6 L1384.7,154.6 L1384.8,156.5 L1384.8,158.4 L1384.9,160.4 L1385.0,162.3 L1385.1,164.3 L1385.1,166.2 L1385.2,168.2 L1385.3,170.1 L1385.3,172.1 L1385.4,174.0 L1385.5,176.0 L1385.5,178.0 L1385.6,180.0 L1385.6,181.9 L1385.7,183.9 L1385.8,185.9 L1385.8,187.9 L1385.9,189.9 L1386.0,191.9 L1386.0,193.9 L1386.1,195.9 L1386.1,197.9 L1386.2,199.9 L1386.3,201.9 L1386.3,203.9 L1386.4,205.9 L1386.4,207.9 L1386.5,209.9 L1386.6,211.9 L1386.6,213.9 L1386.7,215.9 L1386.7,217.9 L1386.8,219.9 L1386.9,222.0 L1386.9,224.0 L1387.0,226.0 L1387.0,228.0 L1387.1,230.0 L1387.2,232.0 L1387.2,234.0 L1387.3,236.1 L1387.4,238.1 L1387.4,240.1 L1387.5,242.1 L1387.6,244.1 L1387.7,246.1 L1387.7,248.1 L1387.8,250.2 L1387.9,252.2 L1387.9,254.2 L1388.0,256.2 L1388.1,258.2 L1388.2,260.2 L1388.2,262.2 L1388.3,264.2 L1388.4,266.3 L1388.5,268.3 L1388.5,270.3 L1388.6,272.3 L1388.7,274.3 L1388.8,276.3 L1388.9,278.3 L1388.9,280.3 L1389.0,282.3 L1389.1,284.4 L1389.2,286.4 L1389.3,288.4 L1389.4,290.4 L1389.5,292.4 L1389.5,294.4 L1389.6,296.4 L1389.7,298.4 L1389.8,300.4 L1389.9,302.4 L1390.0,304.4 L1390.1,306.4 L1390.2,308.4 L1390.2,310.5 L1390.3,312.5 L1390.4,314.5 L1390.5,316.5 L1390.6,318.5 L1390.7,320.5 L1390.8,322.5 L1390.9,324.5 L1391.0,326.5 L1391.1,328.5 L1391.2,330.5 L1391.3,332.5 L1391.4,334.5 L1391.5,336.5 L1391.6,338.5 L1391.7,340.5 L1391.8,342.5 L1391.9,344.5 L1392.0,346.5 L1392.0,348.5 L1392.1,350.5 L1392.2,352.5 L1392.3,354.6 L1392.4,356.6 L1392.5,358.6 L1392.6,360.6 L1392.8,362.6 L1392.9,364.6 L1393.0,366.6 L1393.1,368.6 L1393.2,370.6 L1393.3,372.6 L1393.4,374.6 L1393.5,376.6 L1393.6,378.6 L1393.7,380.6 L1393.8,382.6 L1393.9,384.6 L1394.0,386.6 L1394.1,388.6 L1394.2,390.6 L1394.3,392.6 L1394.4,394.6 L1394.5,396.6 L1394.6,398.6 L1394.7,400.6 L1394.8,402.6 L1394.9,404.6 L1395.0,406.6 L1395.1,408.6 L1395.3,410.6 L1395.4,412.6 L1395.5,414.6 L1395.6,416.6 L1395.7,418.6 L1395.8,420.6 L1395.9,422.6 L1396.0,424.6 L1396.1,426.6 L1396.2,428.6 L1396.3,430.6 L1396.4,432.6 L1396.5,434.6 L1396.7,436.6 L1396.8,438.6 L1396.9,440.6 L1397.0,442.6 L1397.1,444.6 L1397.2,446.6 L1397.3,448.6 L1397.4,450.6 L1397.5,452.6 L1397.6,454.6 L1397.7,456.6 L1397.8,458.6 L1397.9,460.6 L1398.1,462.6 L1398.2,464.6 L1398.3,466.6 L1398.4,468.6 L1398.5,470.6 L1398.6,472.6 L1398.7,474.6 L1398.8,476.6 L1398.9,478.6 L1399.0,480.5 L1399.1,482.5 L1399.2,484.5 L1399.3,486.5 L1399.4,488.5 L1399.6,490.5 L1399.7,492.5 L1399.8,494.5 L1399.9,496.5 L1400.0,498.5 L1400.1,500.5 L1400.2,502.5 L1400.3,504.5 L1400.4,506.5 L1400.5,508.5 L1400.6,510.5 L1400.7,512.5 L1400.8,514.5 L1400.9,516.5 L1401.0,518.5 L1401.1,520.5 L1401.2,522.5 L1401.3,524.5 L1401.4,526.5 L1401.5,528.5 L1401.6,530.5 L1401.7,532.5 L1401.8,534.5 L1401.9,536.5 L1402.0,538.5 L1402.1,540.5 L1402.2,542.5 L1402.3,544.5 L1402.4,546.5 L1402.5,548.5 L1402.6,550.5 L1402.7,552.5 L1402.8,554.5 L1402.9,556.5 L1403.0,558.5 L1403.1,560.5 L1403.2,562.5 L1403.3,564.5 L1403.4,566.5 L1403.5,568.5 L1403.6,570.5 L1403.7,572.5 L1403.8,574.5 L1403.9,576.5 L1404.0,578.5 L1404.1,580.5 L1404.2,582.5 L1404.3,584.5 L1404.3,586.5 L1404.4,588.5 L1404.5,590.5 L1404.6,592.5 L1404.7,594.5 L1404.8,596.5 L1404.9,598.6 L1405.0,600.6 L1405.1,602.6 L1405.2,604.6 L1405.3,606.6 L1405.3,608.6 L1405.4,610.6 L1405.5,612.6 L1405.6,614.6 L1405.7,616.6 L1405.8,618.6 L1405.9,620.6 L1406.0,622.6 L1406.1,624.6 L1406.1,626.6 L1406.2,628.6 L1406.3,630.6 L1406.4,632.6 L1406.5,634.6 L1406.6,636.6 L1406.7,638.6 L1406.8,640.6 L1406.8,642.6 L1406.9,644.6 L1407.0,646.6 L1407.1,648.6 L1407.2,650.6 L1407.3,652.6 L1407.4,654.6 L1407.4,656.6 L1407.5,658.6 L1407.6,660.6 L1407.7,662.6 L1407.8,664.6 L1407.9,666.6 L1408.0,668.6 L1408.0,670.7 L1408.1,672.7 L1408.2,674.7 L1408.3,676.7 L1408.4,678.7 L1408.5,680.7 L1408.5,682.7 L1408.6,684.7 L1408.7,686.7 L1408.8,688.7 L1408.9,690.7 L1409.0,692.7 L1409.1,694.7 L1409.1,696.7 L1409.2,698.7 L1409.3,700.7 L1409.4,702.7 L1409.5,704.7 L1409.6,706.7 L1409.7,708.7 L1409.7,710.7 L1409.8,712.7 L1409.9,714.7 L1410.0,716.7 L1410.1,718.7 L1410.2,720.7 L1410.2,722.8 L1410.3,724.8 L1410.4,726.8 L1410.5,728.8 L1410.6,730.8 L1410.7,732.8 L1410.8,734.8 L1410.8,736.8 L1410.9,738.8 L1411.0,740.8 L1411.1,742.8 L1411.2,744.8 L1411.3,746.8 L1411.4,748.8 L1411.4,750.8 L1411.5,752.8 L1411.6,754.8 L1411.7,756.8 L1411.8,758.8 L1411.9,760.8 L1412.0,762.8 L1412.1,764.8 L1412.1,766.8 L1412.2,768.8 L1412.3,770.8 L1412.4,772.8 L1412.5,774.9 L1412.6,776.9 L1412.7,778.9 L1412.8,780.9 L1412.8,782.9 L1412.9,784.9 L1413.0,786.9 L1413.1,788.9 L1413.2,790.9 L1413.3,792.9 L1413.4,794.9 L1413.5,796.9 L1413.6,798.9 L1413.7,800.9 L1413.7,802.9 L1413.8,804.9 L1413.9,806.9 L1414.0,808.9 L1414.1,810.9 L1414.2,812.9 L1414.3,814.9 L1414.4,816.9 L1414.5,818.9 L1414.6,820.9 L1414.7,822.9 L1414.8,824.9 L1414.9,826.9 L1415.0,828.9 L1415.0,830.9 L1415.1,833.0 L1415.2,835.0 L1415.3,837.0 L1415.4,839.0 L1415.5,841.0 L1415.6,843.0 L1415.7,845.0 L1415.8,847.0 L1415.9,849.0 L1416.0,851.0 L1416.1,853.0 L1416.2,855.0 L1416.3,857.0 L1416.4,859.0 L1416.5,861.0 L1416.6,863.0 L1416.7,865.0 L1416.8,867.0 L1416.9,869.0 L1417.0,871.0 L1417.1,873.0 L1417.2,875.0 L1417.3,877.0 L1417.4,879.0 L1417.5,881.0 L1417.6,883.0 L1417.8,885.0 L1417.9,887.0 L1418.0,889.0 L1418.1,891.0 L1418.2,893.0 L1418.3,895.0 L1418.4,897.0 L1418.5,899.0 L1418.6,901.0 L1418.7,903.0 L1418.8,905.0 L1418.9,907.0 L1419.1,909.0 L1419.2,911.0 L1419.3,913.0 L1419.4,915.0 L1419.5,917.0 L1419.6,919.0 L1419.7,921.0 L1419.8,923.0 L1420.0,925.0 L1420.1,927.0 L1420.2,929.0 L1420.3,931.0 L1420.4,933.0 L1420.5,935.0 L1420.7,937.0 L1420.8,939.0 L1420.9,941.0 L1421.0,943.0 L1421.1,945.0 L1421.3,947.0 L1421.4,949.0 L1421.5,951.0 L1421.6,953.0 L1421.8,955.0 L1421.9,957.0 L1422.0,959.0 L1422.1,961.0 L1422.3,963.0 L1422.4,965.0 L1422.5,967.0 L1422.6,969.0 L1422.8,971.0 L1422.9,973.0 L1423.0,975.0" fill="none" stroke="#9E480E" stroke-width="14" stroke-linecap="round" stroke-linejoin="round"/>
<g stroke="#000" stroke-width="3.3" stroke-linecap="butt">
<line x1="1112" y1="409.7" x2="1194.5" y2="567.4"/>
<line x1="653.9" y1="548.3" x2="735.8" y2="704.3"/>
<line x1="1058.8" y1="714.9" x2="1017.3" y2="793.4"/>
<line x1="1622.6" y1="623.8" x2="1552.2" y2="695.9"/>
<line x1="1496" y1="290.2" x2="1414.1" y2="368.9"/>
<line x1="1503.3" y1="141.3" x2="1433.5" y2="194"/>
<line x1="1530" y1="848.3" x2="1490.8" y2="917.2"/>
<line x1="1267.4" y1="146" x2="1341.7" y2="254.6"/>
</g>
<text class="s" x="204.6" y="74.5" font-size="70" text-anchor="end" textLength="70.97" lengthAdjust="spacingAndGlyphs">40</text>
<text class="s" x="204.6" y="305.6" font-size="70" text-anchor="end" textLength="70.97" lengthAdjust="spacingAndGlyphs">30</text>
<text class="s" x="204.6" y="536.4" font-size="70" text-anchor="end" textLength="70.97" lengthAdjust="spacingAndGlyphs">20</text>
<text class="s" x="204.6" y="768.3" font-size="70" text-anchor="end" textLength="70.97" lengthAdjust="spacingAndGlyphs">10</text>
<text class="s" x="204.6" y="998.6" font-size="70" text-anchor="end">0</text>
<text class="r" x="272" y="1100" font-size="80" text-anchor="middle">1</text>
<text class="r" x="637" y="1098.7" font-size="72" text-anchor="middle" textLength="63.30" lengthAdjust="spacingAndGlyphs">10</text>
<text class="r" x="991" y="1100" font-size="70" text-anchor="middle" textLength="97.73" lengthAdjust="spacingAndGlyphs">100</text>
<text class="r" x="1352" y="1098.5" font-size="70" text-anchor="middle" textLength="133.92" lengthAdjust="spacingAndGlyphs">1000</text>
<text class="r" x="1703" y="1100" font-size="70" text-anchor="middle" textLength="184.45" lengthAdjust="spacingAndGlyphs">10,000</text>
<text class="s" x="1040.5" y="1194.3" font-size="70"  textLength="235.12" lengthAdjust="spacingAndGlyphs">Size, nm</text>
<text class="s" x="73.5" y="667" font-size="70.7" transform="rotate(-90 73.5 667)" textLength="328.19" lengthAdjust="spacingAndGlyphs">Intensity, %</text>
<text class="s" x="1104.5" y="392.7" font-size="70" text-anchor="middle">1</text>
<text class="s" x="641" y="536.6" font-size="70" text-anchor="middle">2</text>
<text class="s" x="1088" y="692.8" font-size="70" text-anchor="middle">3</text>
<text class="s" x="1644" y="610.6" font-size="70" text-anchor="middle">4</text>
<text class="s" x="1521" y="278" font-size="70" text-anchor="middle">5</text>
<text class="s" x="1537" y="136.4" font-size="70" text-anchor="middle">6</text>
<text class="s" x="1546" y="826.6" font-size="70" text-anchor="middle">7</text>
<text class="s" x="1256" y="132.1" font-size="70" text-anchor="middle">8</text>
</svg></body></html>
